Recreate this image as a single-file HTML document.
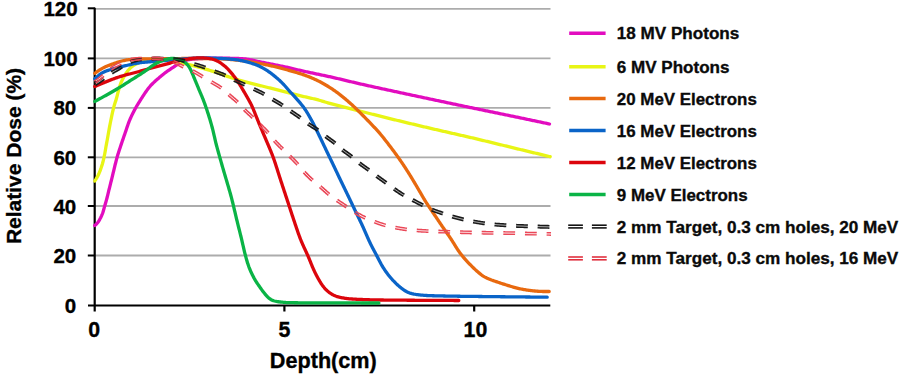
<!DOCTYPE html>
<html><head><meta charset="utf-8"><title>Relative Dose vs Depth</title>
<style>
html,body{margin:0;padding:0;background:#fff;}
body{width:900px;height:375px;overflow:hidden;}
svg{display:block;}
text{font-family:"Liberation Sans",sans-serif;font-weight:bold;fill:#000;stroke:#000;stroke-width:0.35px;}
.tk{font-size:20.5px;}
.tkx{font-size:21.3px;}
.ttl{font-size:21.3px;}
.ttl2{font-size:21px;}
.lg{font-size:17.4px;fill:#0a0a0a;stroke:#0a0a0a;}
</style></head>
<body>
<svg width="900" height="375" viewBox="0 0 900 375">
<rect width="900" height="375" fill="#fff"/>
<line x1="95" y1="255.5" x2="550.5" y2="255.5" stroke="#acacac" stroke-width="1.8"/>
<line x1="95" y1="206.0" x2="550.5" y2="206.0" stroke="#acacac" stroke-width="1.8"/>
<line x1="95" y1="157.3" x2="550.5" y2="157.3" stroke="#acacac" stroke-width="1.8"/>
<line x1="95" y1="107.9" x2="550.5" y2="107.9" stroke="#acacac" stroke-width="1.8"/>
<line x1="95" y1="58.4" x2="550.5" y2="58.4" stroke="#acacac" stroke-width="1.8"/>
<line x1="95" y1="8.8" x2="550.5" y2="8.8" stroke="#acacac" stroke-width="1.8"/>
<line x1="94.7" y1="7.8" x2="94.7" y2="311.5" stroke="#000" stroke-width="2.2"/>
<line x1="88" y1="305.5" x2="550.3" y2="305.5" stroke="#000" stroke-width="2.2"/>
<line x1="87.8" y1="255.5" x2="95" y2="255.5" stroke="#000" stroke-width="2"/>
<line x1="87.8" y1="206.0" x2="95" y2="206.0" stroke="#000" stroke-width="2"/>
<line x1="87.8" y1="157.3" x2="95" y2="157.3" stroke="#000" stroke-width="2"/>
<line x1="87.8" y1="107.9" x2="95" y2="107.9" stroke="#000" stroke-width="2"/>
<line x1="87.8" y1="58.4" x2="95" y2="58.4" stroke="#000" stroke-width="2"/>
<line x1="87.8" y1="8.3" x2="95" y2="8.3" stroke="#000" stroke-width="2"/>
<line x1="284.4" y1="305" x2="284.4" y2="311.5" stroke="#000" stroke-width="2.2"/>
<line x1="474.2" y1="305" x2="474.2" y2="311.5" stroke="#000" stroke-width="2.2"/>
<path d="M94.70 225.50L95.47 224.88L96.22 224.23L96.92 223.54L97.56 222.79L98.15 222.00L98.70 221.17L99.22 220.32L99.71 219.45L100.19 218.57L100.66 217.69L101.10 216.79L101.52 215.89L101.91 214.97L102.29 214.04L102.63 213.11L102.95 212.16L103.25 211.21L103.53 210.25L103.80 209.28L104.06 208.32L104.32 207.36L104.60 206.39L104.87 205.43L105.16 204.47L105.44 203.52L105.72 202.56L106.00 201.60L106.27 200.63L106.54 199.67L106.80 198.70L107.05 197.74L107.29 196.77L107.54 195.80L107.78 194.83L108.01 193.85L108.25 192.88L108.49 191.91L108.72 190.94L108.96 189.97L109.20 189.00L109.44 188.03L109.69 187.06L109.93 186.09L110.17 185.12L110.42 184.15L110.66 183.18L110.90 182.21L111.15 181.24L111.39 180.27L111.63 179.30L111.87 178.33L112.11 177.36L112.35 176.38L112.58 175.41L112.82 174.44L113.05 173.47L113.28 172.49L113.51 171.52L113.74 170.55L113.98 169.58L114.21 168.60L114.45 167.63L114.68 166.66L114.92 165.69L115.16 164.72L115.40 163.75L115.64 162.78L115.89 161.81L116.13 160.84L116.39 159.87L116.64 158.90L116.91 157.94L117.18 156.98L117.46 156.02L117.74 155.06L118.03 154.10L118.33 153.15L118.63 152.19L118.94 151.24L119.25 150.29L119.56 149.34L119.87 148.39L120.19 147.44L120.50 146.49L120.82 145.55L121.14 144.60L121.46 143.65L121.78 142.70L122.10 141.76L122.42 140.81L122.75 139.86L123.07 138.92L123.40 137.97L123.73 137.03L124.06 136.08L124.38 135.14L124.71 134.19L125.04 133.25L125.36 132.30L125.68 131.36L126.00 130.41L126.32 129.46L126.64 128.51L126.96 127.56L127.28 126.62L127.60 125.67L127.93 124.73L128.26 123.78L128.61 122.85L128.97 121.91L129.33 120.98L129.71 120.06L130.10 119.14L130.50 118.22L130.91 117.31L131.33 116.40L131.76 115.50L132.19 114.60L132.64 113.70L133.09 112.81L133.54 111.92L134.00 111.03L134.47 110.15L134.95 109.27L135.43 108.39L135.92 107.52L136.42 106.66L136.93 105.79L137.44 104.94L137.96 104.08L138.49 103.23L139.01 102.38L139.54 101.53L140.07 100.68L140.60 99.84L141.14 98.99L141.67 98.14L142.21 97.30L142.75 96.46L143.29 95.62L143.84 94.78L144.39 93.95L144.95 93.12L145.52 92.30L146.09 91.48L146.67 90.66L147.25 89.85L147.85 89.05L148.46 88.26L149.08 87.47L149.72 86.71L150.37 85.95L151.04 85.21L151.73 84.49L152.43 83.77L153.14 83.07L153.87 82.38L154.60 81.70L155.33 81.02L156.08 80.36L156.83 79.69L157.58 79.04L158.35 78.39L159.11 77.75L159.87 77.10L160.64 76.46L161.41 75.82L162.18 75.18L162.95 74.55L163.73 73.92L164.52 73.31L165.31 72.70L166.12 72.11L166.93 71.52L167.75 70.95L168.57 70.38L169.40 69.82L170.23 69.26L171.06 68.70L171.89 68.15L172.72 67.60L173.56 67.05L174.40 66.50L175.23 65.95L176.07 65.40L176.90 64.85L177.73 64.29L178.56 63.74L179.40 63.19L180.25 62.67L181.11 62.17L182.00 61.71L182.90 61.30L183.83 60.94L184.77 60.62L185.72 60.34L186.69 60.11L187.67 59.90L188.65 59.73L189.64 59.57L190.63 59.43L191.62 59.30L192.62 59.19L193.61 59.08L194.60 58.99L195.60 58.90L196.60 58.82L197.59 58.75L198.59 58.69L199.59 58.63L200.59 58.58L201.59 58.53L202.59 58.49L203.59 58.45L204.59 58.42L205.59 58.39L206.59 58.36L207.58 58.33L208.58 58.31L209.58 58.29L210.58 58.27L211.58 58.25L212.58 58.24L213.58 58.22L214.58 58.22L215.58 58.21L216.58 58.20L217.58 58.20L218.58 58.20L219.58 58.20L220.58 58.20L221.58 58.21L222.58 58.21L223.58 58.22L224.58 58.22L225.58 58.23L226.58 58.24L227.58 58.24L228.58 58.25L229.58 58.26L230.58 58.28L231.58 58.29L232.58 58.31L233.58 58.33L234.58 58.35L235.58 58.38L236.58 58.41L237.58 58.44L238.58 58.48L239.58 58.53L240.58 58.58L241.58 58.64L242.57 58.71L243.57 58.79L244.56 58.88L245.56 58.99L246.55 59.12L247.54 59.26L248.53 59.41L249.51 59.59L250.49 59.78L251.47 59.98L252.45 60.19L253.42 60.41L254.40 60.64L255.37 60.86L256.35 61.08L257.32 61.30L258.30 61.50L259.28 61.70L260.26 61.90L261.24 62.09L262.22 62.29L263.21 62.48L264.19 62.67L265.17 62.86L266.15 63.06L267.13 63.25L268.11 63.44L269.09 63.64L270.07 63.83L271.05 64.03L272.03 64.23L273.01 64.42L274.00 64.62L274.98 64.82L275.96 65.01L276.94 65.21L277.92 65.40L278.90 65.60L279.88 65.80L280.86 66.00L281.84 66.20L282.82 66.40L283.80 66.60L284.78 66.81L285.75 67.02L286.73 67.23L287.71 67.44L288.68 67.66L289.66 67.88L290.63 68.11L291.61 68.34L292.58 68.57L293.55 68.81L294.52 69.04L295.49 69.28L296.46 69.52L297.44 69.75L298.41 69.99L299.38 70.22L300.35 70.45L301.33 70.68L302.30 70.90L303.28 71.12L304.25 71.34L305.23 71.55L306.21 71.76L307.19 71.97L308.17 72.18L309.14 72.38L310.12 72.59L311.10 72.79L312.08 72.99L313.06 73.20L314.04 73.40L315.02 73.60L316.00 73.81L316.98 74.01L317.95 74.22L318.93 74.43L319.91 74.63L320.89 74.84L321.87 75.05L322.85 75.26L323.82 75.46L324.80 75.67L325.78 75.88L326.76 76.09L327.73 76.31L328.71 76.52L329.69 76.73L330.66 76.95L331.64 77.17L332.62 77.39L333.59 77.61L334.57 77.83L335.54 78.06L336.51 78.28L337.49 78.51L338.46 78.74L339.43 78.97L340.41 79.20L341.38 79.43L342.35 79.66L343.33 79.89L344.30 80.13L345.27 80.36L346.24 80.59L347.22 80.83L348.19 81.06L349.16 81.29L350.13 81.53L351.11 81.76L352.08 81.99L353.05 82.22L354.02 82.45L355.00 82.68L355.97 82.91L356.95 83.14L357.92 83.36L358.89 83.59L359.87 83.81L360.84 84.03L361.82 84.26L362.79 84.48L363.77 84.70L364.75 84.92L365.72 85.13L366.70 85.35L367.67 85.57L368.65 85.78L369.63 86.00L370.60 86.21L371.58 86.43L372.56 86.64L373.53 86.86L374.51 87.07L375.49 87.29L376.46 87.50L377.44 87.71L378.42 87.92L379.40 88.14L380.37 88.35L381.35 88.56L382.33 88.77L383.30 88.99L384.28 89.20L385.26 89.41L386.24 89.62L387.21 89.83L388.19 90.04L389.17 90.26L390.15 90.47L391.12 90.68L392.10 90.89L393.08 91.10L394.06 91.31L395.03 91.52L396.01 91.73L396.99 91.94L397.97 92.16L398.94 92.37L399.92 92.58L400.90 92.79L401.88 93.00L402.85 93.21L403.83 93.42L404.81 93.63L405.79 93.84L406.76 94.05L407.74 94.26L408.72 94.47L409.70 94.68L410.68 94.88L411.65 95.09L412.63 95.30L413.61 95.51L414.59 95.72L415.57 95.93L416.54 96.14L417.52 96.35L418.50 96.55L419.48 96.76L420.46 96.97L421.43 97.18L422.41 97.39L423.39 97.60L424.37 97.80L425.35 98.01L426.32 98.22L427.30 98.43L428.28 98.63L429.26 98.84L430.24 99.05L431.22 99.26L432.19 99.47L433.17 99.67L434.15 99.88L435.13 100.09L436.11 100.29L437.08 100.50L438.06 100.71L439.04 100.92L440.02 101.12L441.00 101.33L441.98 101.54L442.95 101.74L443.93 101.95L444.91 102.16L445.89 102.37L446.87 102.57L447.85 102.78L448.83 102.99L449.80 103.19L450.78 103.40L451.76 103.60L452.74 103.81L453.72 104.02L454.70 104.22L455.67 104.43L456.65 104.64L457.63 104.84L458.61 105.05L459.59 105.25L460.57 105.46L461.55 105.66L462.52 105.87L463.50 106.08L464.48 106.28L465.46 106.49L466.44 106.69L467.42 106.90L468.40 107.10L469.38 107.31L470.35 107.51L471.33 107.71L472.31 107.92L473.29 108.12L474.27 108.33L475.25 108.53L476.23 108.73L477.21 108.94L478.19 109.14L479.17 109.34L480.15 109.55L481.12 109.75L482.10 109.95L483.08 110.15L484.06 110.36L485.04 110.56L486.02 110.76L487.00 110.96L487.98 111.16L488.96 111.37L489.94 111.57L490.92 111.77L491.90 111.97L492.88 112.17L493.86 112.37L494.84 112.58L495.82 112.78L496.80 112.98L497.77 113.18L498.75 113.38L499.73 113.58L500.71 113.78L501.69 113.99L502.67 114.19L503.65 114.39L504.63 114.59L505.61 114.79L506.59 115.00L507.57 115.20L508.55 115.40L509.53 115.60L510.51 115.81L511.49 116.01L512.47 116.21L513.44 116.41L514.42 116.62L515.40 116.82L516.38 117.03L517.36 117.23L518.34 117.43L519.32 117.64L520.30 117.84L521.28 118.05L522.25 118.25L523.23 118.46L524.21 118.67L525.19 118.87L526.17 119.08L527.15 119.28L528.13 119.49L529.10 119.69L530.08 119.90L531.06 120.11L532.04 120.31L533.02 120.52L534.00 120.73L534.98 120.93L535.95 121.14L536.93 121.34L537.91 121.55L538.89 121.76L539.87 121.97L540.85 122.17L541.82 122.38L542.80 122.59L543.78 122.79L544.76 123.00L545.73 123.20L546.70 123.41L547.65 123.61L548.58 123.81L549.50 124.00L549.50 124.00" fill="none" stroke="#e20cbf" stroke-width="3.30" stroke-linejoin="round" stroke-linecap="round"/>
<path d="M94.80 181.00L95.33 180.15L95.87 179.31L96.39 178.46L96.90 177.60L97.40 176.73L97.87 175.85L98.32 174.96L98.74 174.05L99.13 173.14L99.51 172.21L99.87 171.28L100.23 170.35L100.57 169.41L100.90 168.46L101.23 167.52L101.54 166.57L101.85 165.62L102.15 164.66L102.44 163.71L102.71 162.75L102.97 161.78L103.22 160.81L103.46 159.84L103.68 158.87L103.90 157.89L104.11 156.91L104.31 155.93L104.50 154.95L104.70 153.97L104.88 152.99L105.06 152.01L105.24 151.02L105.41 150.04L105.57 149.05L105.74 148.06L105.91 147.08L106.08 146.09L106.26 145.11L106.44 144.13L106.63 143.14L106.81 142.16L106.99 141.18L107.18 140.19L107.36 139.21L107.54 138.23L107.71 137.24L107.89 136.26L108.06 135.27L108.24 134.29L108.41 133.30L108.59 132.32L108.76 131.33L108.94 130.35L109.11 129.37L109.29 128.38L109.47 127.40L109.65 126.41L109.84 125.43L110.02 124.45L110.21 123.47L110.41 122.49L110.60 121.51L110.80 120.53L111.00 119.55L111.20 118.57L111.40 117.59L111.60 116.61L111.81 115.63L112.02 114.65L112.23 113.67L112.45 112.70L112.66 111.72L112.89 110.75L113.11 109.77L113.35 108.80L113.59 107.83L113.85 106.86L114.12 105.90L114.40 104.94L114.70 103.99L115.00 103.04L115.31 102.09L115.62 101.13L115.92 100.18L116.20 99.22L116.48 98.26L116.75 97.30L117.00 96.33L117.25 95.36L117.50 94.40L117.75 93.43L118.00 92.46L118.25 91.49L118.51 90.52L118.77 89.56L119.04 88.60L119.33 87.64L119.63 86.69L119.93 85.73L120.26 84.79L120.59 83.85L120.94 82.91L121.32 81.98L121.71 81.07L122.12 80.16L122.56 79.26L123.02 78.37L123.49 77.49L123.99 76.62L124.49 75.76L125.02 74.91L125.55 74.07L126.10 73.23L126.66 72.41L127.24 71.59L127.85 70.80L128.47 70.02L129.12 69.26L129.80 68.54L130.51 67.84L131.26 67.19L132.04 66.57L132.85 65.99L133.68 65.44L134.53 64.92L135.40 64.42L136.28 63.94L137.17 63.49L138.07 63.06L138.98 62.66L139.91 62.29L140.85 61.94L141.79 61.62L142.74 61.32L143.71 61.05L144.67 60.80L145.64 60.57L146.62 60.36L147.60 60.18L148.59 60.02L149.58 59.88L150.57 59.77L151.57 59.68L152.56 59.62L153.56 59.57L154.56 59.55L155.56 59.54L156.56 59.55L157.56 59.58L158.56 59.61L159.56 59.65L160.56 59.70L161.55 59.76L162.55 59.83L163.55 59.90L164.54 59.98L165.54 60.07L166.53 60.18L167.53 60.29L168.52 60.42L169.51 60.56L170.50 60.71L171.48 60.88L172.47 61.05L173.45 61.22L174.44 61.40L175.42 61.58L176.40 61.76L177.39 61.95L178.37 62.15L179.35 62.34L180.33 62.55L181.30 62.76L182.28 62.98L183.25 63.20L184.23 63.42L185.20 63.66L186.17 63.89L187.14 64.13L188.11 64.37L189.08 64.61L190.05 64.86L191.02 65.11L191.99 65.35L192.96 65.61L193.93 65.86L194.89 66.12L195.86 66.37L196.82 66.63L197.79 66.90L198.75 67.16L199.72 67.43L200.68 67.70L201.64 67.97L202.61 68.24L203.57 68.52L204.53 68.79L205.49 69.07L206.45 69.36L207.41 69.64L208.36 69.93L209.32 70.22L210.28 70.51L211.23 70.81L212.19 71.10L213.14 71.41L214.09 71.71L215.04 72.02L215.99 72.34L216.94 72.66L217.88 72.98L218.83 73.31L219.77 73.65L220.71 73.98L221.65 74.32L222.60 74.66L223.54 74.99L224.48 75.33L225.42 75.66L226.37 75.99L227.31 76.32L228.26 76.64L229.21 76.96L230.16 77.27L231.11 77.58L232.06 77.89L233.01 78.19L233.96 78.50L234.92 78.80L235.87 79.09L236.83 79.39L237.78 79.68L238.74 79.97L239.70 80.25L240.66 80.54L241.62 80.82L242.58 81.09L243.54 81.36L244.51 81.63L245.47 81.89L246.44 82.15L247.41 82.40L248.37 82.65L249.34 82.90L250.31 83.14L251.28 83.38L252.25 83.62L253.23 83.86L254.20 84.09L255.17 84.33L256.14 84.57L257.11 84.81L258.08 85.05L259.05 85.29L260.02 85.53L260.99 85.78L261.96 86.02L262.93 86.26L263.90 86.51L264.87 86.75L265.84 87.00L266.81 87.24L267.78 87.48L268.75 87.73L269.72 87.97L270.69 88.22L271.66 88.46L272.63 88.71L273.60 88.95L274.57 89.20L275.54 89.44L276.51 89.69L277.48 89.93L278.45 90.18L279.42 90.42L280.38 90.67L281.35 90.92L282.32 91.16L283.29 91.41L284.26 91.65L285.23 91.90L286.20 92.14L287.17 92.39L288.14 92.64L289.11 92.88L290.08 93.13L291.05 93.37L292.02 93.62L292.98 93.87L293.95 94.11L294.92 94.36L295.89 94.61L296.86 94.85L297.83 95.10L298.80 95.34L299.77 95.58L300.74 95.82L301.71 96.06L302.69 96.29L303.66 96.52L304.63 96.75L305.61 96.97L306.58 97.20L307.56 97.42L308.53 97.63L309.51 97.85L310.49 98.07L311.46 98.29L312.44 98.51L313.41 98.74L314.38 98.97L315.36 99.20L316.33 99.44L317.29 99.69L318.26 99.95L319.22 100.22L320.18 100.50L321.14 100.79L322.10 101.09L323.05 101.38L324.01 101.68L324.96 101.97L325.92 102.25L326.88 102.53L327.84 102.80L328.81 103.07L329.77 103.33L330.74 103.59L331.70 103.85L332.67 104.10L333.64 104.36L334.61 104.61L335.57 104.86L336.54 105.11L337.51 105.36L338.48 105.61L339.45 105.86L340.42 106.11L341.38 106.36L342.35 106.61L343.32 106.86L344.29 107.10L345.26 107.35L346.23 107.60L347.20 107.85L348.17 108.09L349.14 108.34L350.10 108.58L351.07 108.83L352.04 109.08L353.01 109.32L353.98 109.57L354.95 109.81L355.92 110.06L356.89 110.31L357.86 110.55L358.83 110.80L359.80 111.04L360.77 111.29L361.74 111.53L362.71 111.78L363.68 112.02L364.64 112.27L365.61 112.51L366.58 112.76L367.55 113.01L368.52 113.25L369.49 113.50L370.46 113.74L371.43 113.98L372.40 114.23L373.37 114.47L374.34 114.72L375.31 114.96L376.28 115.21L377.25 115.45L378.22 115.69L379.19 115.94L380.16 116.18L381.13 116.42L382.10 116.66L383.07 116.90L384.04 117.15L385.01 117.39L385.98 117.63L386.95 117.87L387.92 118.11L388.89 118.35L389.87 118.59L390.84 118.82L391.81 119.06L392.78 119.30L393.75 119.54L394.72 119.78L395.69 120.01L396.67 120.25L397.64 120.49L398.61 120.72L399.58 120.96L400.55 121.19L401.52 121.43L402.50 121.66L403.47 121.90L404.44 122.13L405.41 122.37L406.38 122.60L407.36 122.83L408.33 123.07L409.30 123.30L410.27 123.53L411.25 123.77L412.22 124.00L413.19 124.23L414.17 124.46L415.14 124.69L416.11 124.93L417.08 125.16L418.06 125.39L419.03 125.62L420.00 125.85L420.98 126.08L421.95 126.31L422.92 126.54L423.90 126.77L424.87 127.00L425.84 127.23L426.82 127.45L427.79 127.68L428.76 127.91L429.74 128.14L430.71 128.36L431.69 128.59L432.66 128.82L433.63 129.04L434.61 129.27L435.58 129.49L436.56 129.72L437.53 129.94L438.51 130.16L439.48 130.39L440.46 130.61L441.43 130.83L442.41 131.05L443.38 131.28L444.36 131.50L445.33 131.72L446.31 131.94L447.28 132.16L448.26 132.39L449.23 132.61L450.21 132.83L451.18 133.05L452.16 133.27L453.13 133.49L454.11 133.71L455.08 133.94L456.06 134.16L457.03 134.38L458.01 134.60L458.98 134.83L459.96 135.05L460.93 135.27L461.91 135.49L462.88 135.72L463.86 135.94L464.83 136.17L465.80 136.39L466.78 136.62L467.75 136.84L468.73 137.07L469.70 137.30L470.67 137.53L471.65 137.75L472.62 137.98L473.60 138.21L474.57 138.44L475.54 138.67L476.51 138.90L477.49 139.14L478.46 139.37L479.43 139.60L480.40 139.83L481.38 140.07L482.35 140.30L483.32 140.53L484.29 140.77L485.27 141.00L486.24 141.24L487.21 141.47L488.18 141.71L489.15 141.94L490.13 142.18L491.10 142.41L492.07 142.65L493.04 142.89L494.01 143.12L494.98 143.36L495.96 143.60L496.93 143.83L497.90 144.07L498.87 144.31L499.84 144.54L500.81 144.78L501.79 145.02L502.76 145.25L503.73 145.49L504.70 145.73L505.67 145.96L506.64 146.20L507.62 146.44L508.59 146.67L509.56 146.91L510.53 147.14L511.50 147.38L512.47 147.62L513.45 147.85L514.42 148.09L515.39 148.32L516.36 148.56L517.33 148.79L518.31 149.02L519.28 149.26L520.25 149.49L521.22 149.73L522.19 149.96L523.17 150.20L524.14 150.43L525.11 150.66L526.08 150.90L527.06 151.13L528.03 151.37L529.00 151.60L529.97 151.83L530.94 152.07L531.92 152.30L532.89 152.54L533.86 152.77L534.83 153.00L535.81 153.24L536.78 153.47L537.75 153.71L538.72 153.94L539.70 154.17L540.67 154.41L541.64 154.64L542.61 154.88L543.58 155.11L544.56 155.34L545.53 155.58L546.49 155.81L547.45 156.04L548.38 156.26L549.30 156.48L550.20 156.70L550.20 156.70" fill="none" stroke="#e8f515" stroke-width="3.30" stroke-linejoin="round" stroke-linecap="round"/>
<path d="M94.80 73.30L95.61 72.72L96.43 72.14L97.25 71.56L98.07 71.00L98.90 70.44L99.73 69.89L100.58 69.36L101.43 68.85L102.30 68.36L103.18 67.89L104.07 67.44L104.97 67.01L105.88 66.60L106.80 66.20L107.72 65.82L108.65 65.45L109.58 65.09L110.52 64.73L111.45 64.39L112.39 64.05L113.34 63.71L114.28 63.38L115.22 63.05L116.17 62.74L117.12 62.42L118.07 62.12L119.03 61.82L119.99 61.54L120.95 61.26L121.91 61.00L122.88 60.76L123.85 60.53L124.83 60.33L125.81 60.14L126.79 59.98L127.78 59.84L128.77 59.72L129.77 59.61L130.76 59.52L131.76 59.44L132.75 59.37L133.75 59.31L134.75 59.25L135.75 59.20L136.75 59.16L137.75 59.11L138.75 59.08L139.74 59.04L140.74 59.01L141.74 58.98L142.74 58.96L143.74 58.93L144.74 58.91L145.74 58.89L146.74 58.87L147.74 58.85L148.74 58.84L149.74 58.82L150.74 58.80L151.74 58.79L152.74 58.77L153.74 58.76L154.74 58.75L155.74 58.74L156.74 58.72L157.74 58.71L158.74 58.70L159.74 58.69L160.74 58.68L161.74 58.67L162.74 58.66L163.74 58.65L164.74 58.64L165.74 58.63L166.74 58.63L167.74 58.62L168.74 58.61L169.74 58.60L170.74 58.60L171.74 58.59L172.74 58.58L173.74 58.57L174.74 58.57L175.74 58.56L176.74 58.55L177.74 58.55L178.74 58.54L179.74 58.54L180.74 58.53L181.74 58.52L182.74 58.52L183.74 58.51L184.74 58.51L185.74 58.51L186.74 58.50L187.74 58.50L188.74 58.50L189.74 58.49L190.74 58.49L191.74 58.49L192.74 58.49L193.74 58.49L194.74 58.49L195.74 58.49L196.74 58.49L197.74 58.49L198.74 58.50L199.74 58.50L200.74 58.50L201.74 58.51L202.74 58.51L203.74 58.52L204.74 58.52L205.74 58.53L206.74 58.53L207.74 58.54L208.74 58.55L209.74 58.56L210.74 58.57L211.74 58.58L212.74 58.60L213.74 58.62L214.74 58.64L215.74 58.67L216.74 58.70L217.74 58.73L218.74 58.77L219.74 58.81L220.73 58.86L221.73 58.91L222.73 58.96L223.73 59.02L224.73 59.08L225.73 59.15L226.72 59.22L227.72 59.30L228.72 59.38L229.71 59.46L230.71 59.54L231.71 59.63L232.70 59.72L233.70 59.81L234.69 59.90L235.69 60.00L236.68 60.10L237.68 60.20L238.67 60.31L239.67 60.42L240.66 60.53L241.65 60.64L242.65 60.76L243.64 60.88L244.63 61.00L245.62 61.13L246.61 61.26L247.60 61.40L248.59 61.55L249.58 61.70L250.57 61.86L251.56 62.02L252.54 62.19L253.53 62.36L254.51 62.53L255.50 62.71L256.48 62.89L257.46 63.07L258.45 63.26L259.43 63.44L260.41 63.63L261.39 63.81L262.37 64.00L263.36 64.20L264.34 64.39L265.32 64.59L266.30 64.79L267.28 64.99L268.26 65.19L269.23 65.40L270.21 65.61L271.19 65.82L272.16 66.04L273.14 66.26L274.11 66.49L275.09 66.72L276.06 66.96L277.03 67.20L278.00 67.44L278.97 67.69L279.93 67.94L280.90 68.20L281.87 68.46L282.83 68.72L283.80 68.98L284.76 69.24L285.73 69.50L286.69 69.76L287.66 70.03L288.62 70.29L289.58 70.56L290.55 70.83L291.51 71.10L292.47 71.38L293.43 71.65L294.39 71.93L295.35 72.21L296.31 72.49L297.27 72.78L298.23 73.06L299.19 73.36L300.14 73.65L301.09 73.96L302.04 74.27L302.99 74.59L303.93 74.91L304.88 75.25L305.82 75.59L306.75 75.94L307.69 76.30L308.62 76.66L309.55 77.03L310.47 77.40L311.40 77.79L312.32 78.17L313.24 78.57L314.15 78.97L315.06 79.38L315.97 79.80L316.88 80.23L317.77 80.67L318.67 81.11L319.56 81.57L320.44 82.04L321.32 82.51L322.20 82.99L323.08 83.47L323.95 83.96L324.81 84.46L325.68 84.96L326.54 85.47L327.40 85.98L328.25 86.50L329.10 87.03L329.94 87.56L330.78 88.11L331.62 88.66L332.45 89.21L333.28 89.78L334.10 90.35L334.91 90.92L335.73 91.50L336.54 92.09L337.34 92.69L338.14 93.28L338.94 93.89L339.73 94.50L340.52 95.11L341.31 95.73L342.09 96.35L342.87 96.98L343.64 97.61L344.41 98.25L345.18 98.89L345.95 99.53L346.71 100.18L347.47 100.83L348.22 101.48L348.98 102.14L349.73 102.80L350.48 103.47L351.22 104.13L351.96 104.80L352.70 105.48L353.43 106.16L354.16 106.84L354.89 107.53L355.61 108.22L356.33 108.92L357.04 109.61L357.76 110.32L358.47 111.02L359.17 111.73L359.88 112.44L360.58 113.15L361.28 113.86L361.99 114.57L362.69 115.28L363.39 115.99L364.09 116.71L364.80 117.42L365.50 118.13L366.20 118.84L366.90 119.56L367.60 120.27L368.30 120.99L369.00 121.70L369.69 122.42L370.38 123.14L371.08 123.86L371.77 124.59L372.45 125.31L373.14 126.04L373.82 126.77L374.51 127.50L375.19 128.23L375.87 128.97L376.54 129.71L377.21 130.45L377.88 131.19L378.54 131.94L379.20 132.69L379.86 133.45L380.50 134.21L381.15 134.98L381.78 135.75L382.42 136.52L383.04 137.30L383.67 138.08L384.29 138.86L384.91 139.65L385.52 140.44L386.14 141.23L386.75 142.02L387.36 142.81L387.97 143.60L388.58 144.40L389.18 145.19L389.79 145.99L390.39 146.78L391.00 147.58L391.60 148.38L392.20 149.18L392.80 149.98L393.39 150.78L393.99 151.59L394.58 152.39L395.17 153.20L395.76 154.01L396.34 154.82L396.93 155.63L397.51 156.44L398.09 157.26L398.67 158.07L399.25 158.89L399.82 159.71L400.39 160.53L400.96 161.35L401.53 162.17L402.10 163.00L402.66 163.83L403.22 164.66L403.77 165.49L404.32 166.32L404.87 167.16L405.42 167.99L405.96 168.83L406.50 169.67L407.04 170.52L407.58 171.36L408.11 172.21L408.64 173.05L409.17 173.90L409.70 174.75L410.22 175.60L410.75 176.45L411.27 177.31L411.79 178.16L412.31 179.02L412.83 179.87L413.34 180.73L413.86 181.59L414.37 182.44L414.88 183.30L415.39 184.16L415.90 185.02L416.41 185.89L416.92 186.75L417.42 187.61L417.93 188.47L418.44 189.33L418.94 190.20L419.44 191.06L419.94 191.93L420.44 192.79L420.94 193.66L421.44 194.53L421.94 195.39L422.44 196.26L422.95 197.12L423.46 197.98L423.97 198.84L424.48 199.70L425.00 200.55L425.53 201.40L426.06 202.25L426.60 203.09L427.14 203.93L427.69 204.77L428.24 205.61L428.79 206.44L429.35 207.27L429.91 208.10L430.47 208.92L431.03 209.75L431.60 210.58L432.16 211.40L432.72 212.23L433.28 213.06L433.84 213.89L434.40 214.71L434.96 215.54L435.52 216.37L436.08 217.20L436.63 218.03L437.19 218.87L437.75 219.70L438.30 220.53L438.86 221.36L439.42 222.19L439.98 223.02L440.54 223.85L441.10 224.67L441.66 225.50L442.22 226.33L442.79 227.15L443.36 227.97L443.93 228.80L444.50 229.62L445.07 230.44L445.64 231.25L446.22 232.07L446.79 232.89L447.37 233.71L447.94 234.53L448.51 235.35L449.08 236.17L449.65 237.00L450.21 237.82L450.76 238.66L451.31 239.49L451.86 240.33L452.40 241.17L452.93 242.02L453.46 242.87L453.98 243.72L454.50 244.57L455.03 245.42L455.55 246.28L456.08 247.12L456.61 247.97L457.15 248.81L457.70 249.65L458.26 250.47L458.83 251.30L459.41 252.11L459.99 252.92L460.59 253.72L461.20 254.51L461.82 255.30L462.45 256.08L463.08 256.85L463.73 257.61L464.38 258.37L465.03 259.12L465.70 259.87L466.37 260.61L467.05 261.35L467.73 262.08L468.42 262.80L469.11 263.53L469.80 264.24L470.50 264.96L471.20 265.67L471.91 266.38L472.62 267.08L473.34 267.78L474.06 268.47L474.78 269.16L475.52 269.84L476.26 270.51L477.00 271.18L477.75 271.84L478.51 272.49L479.27 273.13L480.05 273.76L480.83 274.38L481.62 274.98L482.43 275.56L483.26 276.11L484.11 276.63L484.97 277.12L485.86 277.58L486.75 278.02L487.66 278.43L488.58 278.83L489.50 279.20L490.43 279.57L491.36 279.93L492.30 280.27L493.24 280.61L494.18 280.95L495.13 281.28L496.07 281.60L497.02 281.93L497.97 282.24L498.92 282.56L499.86 282.87L500.81 283.19L501.77 283.50L502.72 283.81L503.67 284.11L504.62 284.42L505.57 284.73L506.52 285.03L507.48 285.33L508.43 285.63L509.39 285.93L510.34 286.22L511.30 286.51L512.26 286.79L513.22 287.07L514.18 287.34L515.15 287.61L516.11 287.86L517.08 288.11L518.05 288.35L519.02 288.58L520.00 288.80L520.98 289.00L521.96 289.20L522.94 289.39L523.92 289.56L524.91 289.73L525.90 289.89L526.88 290.03L527.87 290.18L528.86 290.31L529.86 290.44L530.85 290.56L531.84 290.67L532.84 290.78L533.83 290.89L534.83 290.99L535.82 291.08L536.82 291.16L537.81 291.24L538.81 291.31L539.81 291.37L540.81 291.42L541.80 291.46L542.80 291.48L543.80 291.50L544.79 291.51L545.78 291.52L546.76 291.51L547.74 291.51L548.71 291.50L549.20 291.50" fill="none" stroke="#e8690f" stroke-width="3.30" stroke-linejoin="round" stroke-linecap="round"/>
<path d="M94.80 78.80L95.55 78.14L96.30 77.48L97.05 76.81L97.80 76.16L98.57 75.51L99.34 74.88L100.13 74.27L100.94 73.69L101.78 73.15L102.63 72.64L103.51 72.17L104.41 71.75L105.33 71.36L106.26 71.00L107.21 70.66L108.15 70.35L109.11 70.05L110.06 69.75L111.02 69.47L111.98 69.19L112.94 68.91L113.90 68.63L114.87 68.37L115.83 68.10L116.80 67.85L117.77 67.60L118.74 67.36L119.71 67.13L120.68 66.89L121.65 66.66L122.63 66.43L123.60 66.19L124.57 65.95L125.54 65.72L126.51 65.48L127.48 65.24L128.46 65.00L129.43 64.78L130.40 64.55L131.38 64.34L132.36 64.13L133.34 63.93L134.32 63.73L135.30 63.54L136.28 63.36L137.27 63.18L138.25 63.01L139.24 62.86L140.23 62.71L141.22 62.58L142.21 62.46L143.21 62.35L144.20 62.25L145.20 62.16L146.19 62.07L147.19 61.99L148.19 61.91L149.18 61.84L150.18 61.77L151.18 61.69L152.18 61.62L153.17 61.54L154.17 61.46L155.17 61.38L156.16 61.29L157.16 61.21L158.16 61.12L159.15 61.03L160.15 60.94L161.14 60.84L162.14 60.75L163.13 60.67L164.13 60.58L165.13 60.49L166.12 60.40L167.12 60.31L168.12 60.23L169.11 60.14L170.11 60.05L171.10 59.96L172.10 59.88L173.10 59.79L174.09 59.70L175.09 59.62L176.09 59.53L177.08 59.44L178.08 59.36L179.07 59.28L180.07 59.19L181.07 59.11L182.06 59.03L183.06 58.95L184.06 58.87L185.06 58.80L186.05 58.72L187.05 58.65L188.05 58.57L189.04 58.50L190.04 58.42L191.04 58.35L192.04 58.28L193.03 58.22L194.03 58.16L195.03 58.10L196.03 58.05L197.03 58.00L198.03 57.97L199.03 57.94L200.03 57.91L201.03 57.90L202.03 57.89L203.03 57.89L204.03 57.89L205.03 57.90L206.03 57.92L207.03 57.94L208.02 57.96L209.02 57.99L210.02 58.02L211.02 58.05L212.02 58.09L213.02 58.13L214.02 58.16L215.02 58.20L216.02 58.24L217.02 58.28L218.02 58.33L219.02 58.37L220.02 58.42L221.01 58.47L222.01 58.52L223.01 58.58L224.01 58.64L225.01 58.70L226.01 58.76L227.00 58.83L228.00 58.91L229.00 58.98L229.99 59.06L230.99 59.15L231.99 59.24L232.98 59.34L233.98 59.44L234.97 59.56L235.96 59.69L236.95 59.83L237.94 59.98L238.92 60.15L239.91 60.33L240.89 60.52L241.87 60.72L242.84 60.93L243.82 61.16L244.79 61.39L245.76 61.63L246.73 61.88L247.69 62.14L248.66 62.42L249.62 62.70L250.57 62.99L251.53 63.28L252.48 63.59L253.43 63.90L254.38 64.22L255.32 64.56L256.26 64.90L257.19 65.27L258.11 65.65L259.03 66.05L259.93 66.47L260.83 66.91L261.72 67.36L262.60 67.84L263.47 68.33L264.34 68.83L265.19 69.35L266.04 69.88L266.88 70.42L267.71 70.97L268.54 71.53L269.36 72.11L270.17 72.69L270.98 73.28L271.77 73.88L272.57 74.49L273.35 75.11L274.13 75.74L274.90 76.37L275.67 77.01L276.43 77.66L277.19 78.31L277.94 78.97L278.69 79.64L279.43 80.31L280.17 80.99L280.90 81.67L281.62 82.36L282.33 83.06L283.03 83.78L283.72 84.50L284.39 85.24L285.05 85.99L285.71 86.74L286.36 87.51L287.00 88.27L287.65 89.03L288.31 89.78L288.97 90.53L289.64 91.28L290.31 92.01L290.99 92.75L291.68 93.48L292.36 94.21L293.04 94.94L293.72 95.67L294.39 96.41L295.06 97.15L295.73 97.90L296.39 98.65L297.05 99.40L297.71 100.15L298.37 100.90L299.03 101.65L299.69 102.41L300.33 103.17L300.98 103.94L301.61 104.71L302.23 105.49L302.85 106.28L303.45 107.08L304.04 107.89L304.61 108.71L305.17 109.53L305.72 110.37L306.27 111.21L306.80 112.05L307.32 112.91L307.84 113.76L308.35 114.62L308.85 115.49L309.35 116.35L309.85 117.22L310.34 118.09L310.82 118.97L311.31 119.84L311.79 120.72L312.27 121.60L312.74 122.48L313.21 123.36L313.67 124.25L314.13 125.14L314.58 126.03L315.03 126.92L315.47 127.82L315.91 128.72L316.35 129.62L316.78 130.52L317.21 131.42L317.65 132.32L318.08 133.22L318.51 134.12L318.94 135.03L319.38 135.93L319.81 136.83L320.25 137.73L320.68 138.63L321.11 139.53L321.55 140.43L321.98 141.33L322.41 142.23L322.84 143.14L323.27 144.04L323.71 144.94L324.14 145.84L324.57 146.75L325.00 147.65L325.43 148.55L325.86 149.45L326.29 150.36L326.72 151.26L327.16 152.16L327.59 153.06L328.03 153.96L328.46 154.86L328.89 155.76L329.33 156.66L329.76 157.56L330.20 158.46L330.63 159.36L331.07 160.27L331.50 161.17L331.93 162.07L332.37 162.97L332.80 163.87L333.23 164.77L333.66 165.68L334.09 166.58L334.52 167.48L334.95 168.39L335.37 169.29L335.80 170.19L336.23 171.10L336.66 172.00L337.09 172.91L337.51 173.81L337.94 174.71L338.37 175.62L338.80 176.52L339.23 177.42L339.66 178.32L340.10 179.22L340.53 180.13L340.96 181.03L341.40 181.93L341.83 182.83L342.27 183.73L342.70 184.63L343.14 185.53L343.57 186.43L344.01 187.33L344.45 188.23L344.88 189.13L345.32 190.03L345.75 190.93L346.19 191.83L346.62 192.73L347.06 193.63L347.49 194.53L347.93 195.43L348.36 196.33L348.79 197.24L349.22 198.14L349.65 199.04L350.09 199.94L350.52 200.85L350.94 201.75L351.37 202.65L351.80 203.55L352.23 204.46L352.66 205.36L353.09 206.26L353.52 207.17L353.96 208.07L354.39 208.97L354.82 209.87L355.26 210.77L355.69 211.67L356.13 212.57L356.57 213.47L357.00 214.37L357.44 215.27L357.88 216.17L358.32 217.07L358.75 217.97L359.19 218.87L359.62 219.77L360.05 220.67L360.49 221.57L360.91 222.48L361.34 223.38L361.76 224.29L362.18 225.19L362.60 226.10L363.01 227.01L363.42 227.93L363.83 228.84L364.23 229.75L364.63 230.67L365.03 231.59L365.44 232.50L365.84 233.42L366.24 234.34L366.64 235.25L367.04 236.17L367.44 237.08L367.85 238.00L368.25 238.91L368.67 239.82L369.08 240.73L369.50 241.64L369.93 242.54L370.37 243.44L370.80 244.34L371.25 245.24L371.70 246.13L372.15 247.02L372.62 247.91L373.08 248.79L373.55 249.68L374.02 250.56L374.49 251.44L374.96 252.32L375.43 253.20L375.90 254.09L376.37 254.97L376.84 255.86L377.30 256.74L377.76 257.63L378.21 258.52L378.67 259.41L379.13 260.30L379.59 261.19L380.06 262.07L380.53 262.95L381.00 263.83L381.49 264.70L381.99 265.57L382.50 266.43L383.02 267.29L383.55 268.13L384.09 268.97L384.64 269.81L385.20 270.64L385.77 271.46L386.35 272.27L386.93 273.08L387.53 273.88L388.14 274.68L388.76 275.46L389.39 276.24L390.03 277.01L390.67 277.77L391.33 278.53L391.99 279.27L392.67 280.01L393.35 280.75L394.04 281.47L394.73 282.19L395.44 282.90L396.15 283.60L396.88 284.28L397.61 284.96L398.35 285.63L399.11 286.29L399.87 286.93L400.64 287.57L401.42 288.19L402.21 288.80L403.02 289.40L403.83 289.97L404.67 290.52L405.52 291.04L406.39 291.52L407.28 291.97L408.20 292.37L409.12 292.74L410.06 293.07L411.02 293.36L411.98 293.63L412.95 293.86L413.93 294.07L414.91 294.25L415.90 294.42L416.88 294.56L417.88 294.69L418.87 294.81L419.86 294.92L420.86 295.03L421.85 295.12L422.85 295.21L423.84 295.29L424.84 295.37L425.84 295.44L426.84 295.50L427.84 295.55L428.83 295.60L429.83 295.64L430.83 295.68L431.83 295.71L432.83 295.74L433.83 295.77L434.83 295.80L435.83 295.82L436.83 295.84L437.83 295.87L438.83 295.89L439.83 295.91L440.83 295.93L441.83 295.95L442.83 295.97L443.83 296.00L444.83 296.02L445.83 296.04L446.83 296.06L447.83 296.08L448.83 296.10L449.83 296.12L450.83 296.13L451.83 296.15L452.83 296.17L453.83 296.18L454.83 296.20L455.83 296.21L456.83 296.22L457.83 296.24L458.83 296.25L459.83 296.26L460.83 296.28L461.83 296.29L462.83 296.30L463.83 296.31L464.83 296.33L465.83 296.34L466.83 296.35L467.83 296.36L468.83 296.37L469.83 296.38L470.83 296.39L471.83 296.41L472.83 296.42L473.83 296.43L474.83 296.44L475.83 296.45L476.83 296.46L477.82 296.47L478.82 296.49L479.82 296.50L480.82 296.51L481.82 296.52L482.82 296.53L483.82 296.54L484.82 296.55L485.82 296.57L486.82 296.58L487.82 296.59L488.82 296.60L489.82 296.61L490.82 296.62L491.82 296.63L492.82 296.64L493.82 296.65L494.82 296.66L495.82 296.67L496.82 296.68L497.82 296.69L498.82 296.71L499.82 296.72L500.82 296.73L501.82 296.74L502.82 296.75L503.82 296.76L504.82 296.77L505.82 296.78L506.82 296.79L507.82 296.80L508.82 296.81L509.82 296.82L510.82 296.83L511.82 296.84L512.82 296.85L513.82 296.86L514.82 296.87L515.82 296.88L516.82 296.89L517.82 296.90L518.82 296.91L519.82 296.92L520.82 296.93L521.82 296.94L522.82 296.95L523.82 296.96L524.82 296.97L525.82 296.98L526.82 296.99L527.82 297.00L528.82 297.01L529.82 297.02L530.82 297.03L531.82 297.04L532.82 297.05L533.82 297.06L534.82 297.07L535.82 297.08L536.82 297.09L537.82 297.10L538.82 297.11L539.82 297.12L540.82 297.13L541.82 297.14L542.82 297.16L543.81 297.17L544.80 297.18L545.77 297.19L546.73 297.20L547.20 297.20" fill="none" stroke="#0a64c8" stroke-width="3.30" stroke-linejoin="round" stroke-linecap="round"/>
<path d="M94.80 86.50L95.72 86.11L96.64 85.73L97.57 85.34L98.49 84.95L99.41 84.57L100.33 84.18L101.26 83.80L102.18 83.41L103.10 83.03L104.03 82.65L104.95 82.26L105.87 81.88L106.80 81.49L107.72 81.11L108.65 80.73L109.57 80.36L110.50 79.99L111.43 79.62L112.37 79.27L113.30 78.92L114.24 78.58L115.19 78.24L116.13 77.91L117.08 77.59L118.03 77.27L118.98 76.96L119.93 76.66L120.88 76.36L121.84 76.06L122.80 75.77L123.75 75.49L124.72 75.22L125.68 74.96L126.65 74.71L127.62 74.46L128.59 74.23L129.56 73.99L130.53 73.75L131.50 73.51L132.47 73.27L133.44 73.02L134.41 72.77L135.38 72.51L136.34 72.26L137.31 72.00L138.27 71.74L139.24 71.47L140.20 71.21L141.17 70.94L142.13 70.67L143.09 70.40L144.05 70.13L145.02 69.85L145.98 69.58L146.94 69.30L147.90 69.02L148.86 68.74L149.82 68.46L150.78 68.19L151.74 67.91L152.71 67.64L153.67 67.38L154.63 67.11L155.60 66.85L156.57 66.60L157.53 66.35L158.50 66.11L159.47 65.87L160.45 65.63L161.42 65.39L162.39 65.15L163.36 64.91L164.33 64.66L165.29 64.40L166.26 64.14L167.22 63.88L168.18 63.60L169.15 63.33L170.11 63.05L171.07 62.77L172.03 62.49L172.99 62.21L173.95 61.93L174.91 61.65L175.87 61.38L176.83 61.11L177.80 60.86L178.77 60.62L179.74 60.39L180.72 60.18L181.70 59.98L182.68 59.80L183.67 59.63L184.65 59.46L185.64 59.31L186.63 59.16L187.62 59.02L188.61 58.88L189.60 58.75L190.59 58.62L191.59 58.49L192.58 58.37L193.57 58.25L194.56 58.13L195.56 58.03L196.55 57.95L197.55 57.88L198.55 57.84L199.55 57.82L200.54 57.83L201.54 57.86L202.54 57.90L203.54 57.96L204.54 58.03L205.53 58.12L206.53 58.21L207.52 58.33L208.51 58.46L209.50 58.61L210.48 58.78L211.46 58.98L212.43 59.21L213.39 59.47L214.34 59.78L215.28 60.12L216.20 60.50L217.10 60.92L217.98 61.38L218.85 61.88L219.70 62.40L220.54 62.95L221.36 63.52L222.16 64.10L222.96 64.71L223.75 65.32L224.52 65.95L225.29 66.60L226.03 67.26L226.77 67.94L227.48 68.64L228.18 69.35L228.86 70.09L229.52 70.83L230.18 71.58L230.83 72.35L231.47 73.11L232.11 73.88L232.74 74.66L233.36 75.44L233.98 76.22L234.59 77.02L235.19 77.82L235.78 78.62L236.36 79.44L236.93 80.26L237.50 81.08L238.05 81.91L238.60 82.75L239.14 83.59L239.67 84.44L240.20 85.29L240.72 86.14L241.23 87.00L241.74 87.86L242.25 88.72L242.76 89.58L243.27 90.44L243.77 91.31L244.28 92.17L244.78 93.03L245.29 93.90L245.79 94.76L246.29 95.63L246.79 96.49L247.29 97.36L247.79 98.23L248.28 99.10L248.77 99.97L249.25 100.84L249.73 101.72L250.20 102.60L250.67 103.49L251.11 104.38L251.55 105.28L251.97 106.19L252.38 107.10L252.78 108.02L253.17 108.94L253.56 109.86L253.94 110.78L254.32 111.71L254.70 112.64L255.07 113.56L255.44 114.49L255.81 115.42L256.18 116.35L256.56 117.28L256.93 118.20L257.30 119.13L257.68 120.06L258.05 120.99L258.43 121.91L258.81 122.84L259.19 123.76L259.57 124.68L259.96 125.61L260.35 126.53L260.74 127.45L261.13 128.37L261.52 129.29L261.92 130.21L262.31 131.13L262.70 132.05L263.10 132.97L263.49 133.89L263.88 134.80L264.28 135.72L264.67 136.64L265.06 137.57L265.45 138.49L265.84 139.41L266.22 140.33L266.61 141.25L267.00 142.17L267.40 143.09L267.79 144.01L268.18 144.93L268.57 145.85L268.97 146.77L269.36 147.69L269.74 148.61L270.13 149.54L270.51 150.46L270.89 151.39L271.26 152.31L271.63 153.24L272.00 154.17L272.36 155.11L272.71 156.04L273.06 156.98L273.40 157.92L273.74 158.86L274.07 159.80L274.40 160.75L274.72 161.69L275.04 162.64L275.35 163.59L275.66 164.54L275.97 165.49L276.28 166.44L276.59 167.40L276.89 168.35L277.19 169.30L277.50 170.26L277.80 171.21L278.10 172.16L278.40 173.12L278.70 174.07L279.00 175.02L279.31 175.98L279.61 176.93L279.92 177.88L280.22 178.83L280.53 179.78L280.84 180.73L281.15 181.68L281.47 182.63L281.78 183.58L282.09 184.53L282.40 185.48L282.72 186.43L283.03 187.38L283.34 188.33L283.66 189.28L283.97 190.23L284.28 191.18L284.60 192.13L284.91 193.08L285.23 194.03L285.54 194.98L285.85 195.93L286.17 196.88L286.48 197.83L286.80 198.78L287.11 199.73L287.42 200.68L287.73 201.63L288.05 202.58L288.36 203.53L288.67 204.48L288.98 205.43L289.29 206.38L289.60 207.33L289.91 208.28L290.23 209.23L290.54 210.18L290.85 211.13L291.16 212.08L291.47 213.03L291.79 213.98L292.10 214.93L292.42 215.88L292.73 216.83L293.05 217.77L293.37 218.72L293.69 219.67L294.01 220.62L294.33 221.56L294.65 222.51L294.96 223.46L295.28 224.41L295.60 225.36L295.92 226.31L296.23 227.25L296.55 228.20L296.88 229.15L297.20 230.09L297.52 231.04L297.85 231.99L298.18 232.93L298.51 233.87L298.85 234.81L299.19 235.75L299.54 236.69L299.89 237.63L300.25 238.56L300.61 239.49L300.99 240.42L301.37 241.34L301.75 242.27L302.15 243.18L302.55 244.10L302.96 245.01L303.37 245.93L303.78 246.83L304.20 247.74L304.62 248.65L305.05 249.56L305.47 250.46L305.89 251.37L306.31 252.28L306.73 253.19L307.14 254.10L307.55 255.01L307.95 255.92L308.35 256.84L308.74 257.76L309.12 258.69L309.50 259.61L309.88 260.54L310.26 261.46L310.63 262.39L311.00 263.32L311.38 264.25L311.76 265.17L312.14 266.10L312.52 267.02L312.92 267.94L313.32 268.85L313.73 269.77L314.14 270.67L314.57 271.58L315.01 272.48L315.45 273.37L315.91 274.26L316.36 275.15L316.83 276.04L317.30 276.92L317.77 277.80L318.25 278.68L318.74 279.55L319.24 280.42L319.75 281.28L320.27 282.13L320.80 282.98L321.35 283.81L321.91 284.64L322.49 285.46L323.09 286.25L323.70 287.04L324.34 287.81L325.00 288.55L325.69 289.28L326.39 289.99L327.11 290.68L327.86 291.33L328.63 291.97L329.43 292.57L330.24 293.15L331.07 293.70L331.93 294.22L332.80 294.70L333.68 295.16L334.59 295.58L335.51 295.96L336.44 296.31L337.39 296.62L338.35 296.91L339.31 297.16L340.28 297.39L341.26 297.59L342.24 297.78L343.23 297.96L344.21 298.13L345.20 298.28L346.19 298.42L347.18 298.55L348.17 298.67L349.17 298.77L350.16 298.87L351.16 298.95L352.16 299.02L353.15 299.09L354.15 299.15L355.15 299.20L356.15 299.25L357.15 299.30L358.15 299.34L359.15 299.38L360.15 299.42L361.15 299.47L362.14 299.50L363.14 299.54L364.14 299.58L365.14 299.62L366.14 299.65L367.14 299.69L368.14 299.72L369.14 299.75L370.14 299.78L371.14 299.81L372.14 299.83L373.14 299.86L374.14 299.88L375.14 299.90L376.14 299.92L377.14 299.93L378.14 299.95L379.14 299.97L380.14 299.98L381.14 299.99L382.14 300.01L383.14 300.02L384.14 300.03L385.14 300.05L386.14 300.06L387.14 300.07L388.14 300.08L389.14 300.09L390.14 300.10L391.14 300.11L392.14 300.12L393.14 300.13L394.14 300.14L395.14 300.15L396.14 300.15L397.14 300.16L398.14 300.17L399.14 300.18L400.14 300.18L401.14 300.19L402.14 300.20L403.14 300.20L404.14 300.21L405.14 300.22L406.14 300.22L407.14 300.23L408.14 300.24L409.14 300.24L410.14 300.25L411.14 300.25L412.14 300.26L413.14 300.27L414.14 300.27L415.14 300.28L416.14 300.28L417.14 300.29L418.14 300.29L419.14 300.30L420.14 300.31L421.14 300.31L422.14 300.32L423.14 300.32L424.14 300.33L425.14 300.33L426.14 300.34L427.14 300.34L428.14 300.35L429.14 300.35L430.14 300.36L431.14 300.36L432.14 300.37L433.14 300.37L434.14 300.38L435.14 300.38L436.14 300.39L437.14 300.39L438.14 300.40L439.14 300.40L440.14 300.41L441.14 300.41L442.14 300.42L443.14 300.42L444.14 300.43L445.14 300.43L446.14 300.44L447.14 300.44L448.14 300.45L449.14 300.45L450.14 300.46L451.14 300.46L452.14 300.47L453.14 300.47L454.13 300.48L455.12 300.48L456.09 300.49L457.03 300.49L457.93 300.50L458.80 300.50L458.80 300.50" fill="none" stroke="#dc050c" stroke-width="3.30" stroke-linejoin="round" stroke-linecap="round"/>
<path d="M94.80 101.40L95.68 100.93L96.57 100.46L97.45 99.99L98.33 99.52L99.21 99.05L100.09 98.57L100.97 98.10L101.85 97.62L102.73 97.14L103.60 96.66L104.48 96.17L105.35 95.69L106.22 95.20L107.10 94.71L107.97 94.22L108.84 93.72L109.71 93.23L110.58 92.73L111.44 92.24L112.31 91.74L113.18 91.24L114.04 90.74L114.91 90.24L115.77 89.73L116.63 89.22L117.49 88.71L118.35 88.20L119.20 87.68L120.06 87.16L120.91 86.63L121.75 86.10L122.60 85.57L123.44 85.03L124.28 84.49L125.12 83.95L125.96 83.40L126.80 82.86L127.64 82.32L128.48 81.78L129.33 81.24L130.17 80.70L131.02 80.17L131.86 79.64L132.71 79.11L133.56 78.58L134.41 78.05L135.26 77.52L136.11 76.99L136.95 76.46L137.80 75.92L138.64 75.38L139.48 74.84L140.32 74.30L141.16 73.75L141.99 73.20L142.83 72.65L143.66 72.09L144.48 71.53L145.30 70.96L146.12 70.38L146.93 69.80L147.73 69.20L148.53 68.60L149.33 67.99L150.12 67.39L150.92 66.79L151.73 66.20L152.55 65.62L153.38 65.07L154.22 64.53L155.07 64.02L155.94 63.52L156.82 63.05L157.71 62.59L158.61 62.15L159.51 61.72L160.42 61.31L161.34 60.92L162.27 60.55L163.20 60.19L164.15 59.87L165.10 59.57L166.06 59.31L167.03 59.07L168.00 58.86L168.99 58.68L169.97 58.54L170.96 58.45L171.96 58.41L172.95 58.42L173.94 58.49L174.93 58.61L175.91 58.78L176.89 58.98L177.86 59.22L178.82 59.49L179.77 59.79L180.70 60.14L181.62 60.52L182.51 60.95L183.39 61.43L184.23 61.95L185.05 62.52L185.82 63.14L186.55 63.81L187.24 64.52L187.88 65.28L188.48 66.07L189.04 66.89L189.57 67.74L190.06 68.61L190.52 69.49L190.95 70.39L191.36 71.30L191.77 72.22L192.16 73.14L192.55 74.06L192.94 74.98L193.33 75.90L193.71 76.82L194.10 77.74L194.49 78.67L194.87 79.59L195.25 80.51L195.63 81.44L196.01 82.36L196.40 83.29L196.78 84.21L197.16 85.14L197.54 86.06L197.92 86.99L198.30 87.91L198.69 88.83L199.07 89.76L199.46 90.68L199.85 91.60L200.24 92.52L200.63 93.44L201.02 94.36L201.41 95.28L201.80 96.20L202.18 97.13L202.55 98.05L202.93 98.98L203.29 99.91L203.65 100.85L204.01 101.78L204.35 102.72L204.70 103.66L205.04 104.60L205.37 105.54L205.70 106.48L206.03 107.43L206.35 108.38L206.68 109.32L206.99 110.27L207.31 111.22L207.62 112.17L207.93 113.12L208.24 114.07L208.54 115.02L208.84 115.98L209.14 116.93L209.44 117.89L209.73 118.84L210.02 119.80L210.30 120.76L210.59 121.72L210.86 122.68L211.14 123.64L211.41 124.60L211.67 125.57L211.94 126.53L212.20 127.50L212.45 128.47L212.70 129.43L212.94 130.40L213.18 131.38L213.41 132.35L213.64 133.32L213.86 134.30L214.09 135.27L214.31 136.25L214.53 137.22L214.75 138.20L214.97 139.17L215.20 140.15L215.43 141.12L215.66 142.09L215.90 143.06L216.15 144.03L216.40 145.00L216.65 145.97L216.91 146.93L217.17 147.90L217.43 148.86L217.70 149.83L217.97 150.79L218.24 151.75L218.51 152.72L218.78 153.68L219.05 154.64L219.32 155.60L219.59 156.57L219.87 157.53L220.14 158.49L220.41 159.45L220.68 160.41L220.95 161.38L221.23 162.34L221.50 163.30L221.77 164.26L222.05 165.22L222.32 166.19L222.60 167.15L222.88 168.11L223.15 169.07L223.43 170.03L223.71 170.99L223.99 171.95L224.27 172.91L224.55 173.87L224.83 174.83L225.12 175.79L225.40 176.75L225.69 177.70L225.97 178.66L226.26 179.62L226.54 180.58L226.83 181.54L227.11 182.50L227.40 183.46L227.68 184.42L227.96 185.37L228.24 186.33L228.52 187.29L228.80 188.25L229.08 189.21L229.36 190.17L229.64 191.14L229.91 192.10L230.18 193.06L230.45 194.02L230.72 194.99L230.98 195.95L231.24 196.92L231.49 197.89L231.74 198.85L231.99 199.82L232.23 200.79L232.47 201.76L232.71 202.74L232.94 203.71L233.18 204.68L233.41 205.65L233.65 206.62L233.88 207.60L234.11 208.57L234.34 209.54L234.57 210.51L234.80 211.49L235.03 212.46L235.26 213.43L235.49 214.41L235.72 215.38L235.95 216.35L236.18 217.33L236.41 218.30L236.64 219.27L236.88 220.25L237.11 221.22L237.35 222.19L237.59 223.16L237.83 224.13L238.07 225.10L238.31 226.07L238.56 227.04L238.80 228.01L239.05 228.98L239.29 229.95L239.54 230.92L239.78 231.89L240.02 232.86L240.27 233.83L240.51 234.80L240.75 235.77L240.99 236.74L241.22 237.71L241.46 238.68L241.69 239.66L241.92 240.63L242.14 241.61L242.37 242.58L242.59 243.55L242.81 244.53L243.03 245.51L243.25 246.48L243.48 247.45L243.70 248.43L243.93 249.40L244.16 250.38L244.39 251.35L244.63 252.32L244.87 253.29L245.12 254.26L245.37 255.23L245.63 256.19L245.89 257.16L246.15 258.12L246.42 259.09L246.70 260.05L246.98 261.01L247.26 261.97L247.56 262.92L247.86 263.87L248.18 264.82L248.51 265.77L248.84 266.71L249.19 267.64L249.56 268.57L249.93 269.50L250.32 270.42L250.72 271.34L251.13 272.25L251.56 273.16L251.99 274.06L252.43 274.95L252.88 275.85L253.34 276.73L253.81 277.62L254.28 278.50L254.77 279.37L255.27 280.23L255.79 281.09L256.32 281.94L256.86 282.78L257.42 283.61L257.98 284.43L258.55 285.25L259.13 286.07L259.70 286.89L260.28 287.71L260.86 288.52L261.43 289.34L262.02 290.15L262.61 290.96L263.21 291.75L263.83 292.54L264.46 293.32L265.10 294.09L265.75 294.85L266.41 295.60L267.08 296.33L267.77 297.05L268.49 297.73L269.25 298.38L270.04 298.97L270.88 299.50L271.75 299.97L272.65 300.37L273.58 300.72L274.53 301.01L275.50 301.25L276.47 301.45L277.46 301.61L278.45 301.75L279.44 301.88L280.43 302.00L281.42 302.11L282.42 302.21L283.41 302.31L284.41 302.39L285.41 302.47L286.40 302.53L287.40 302.57L288.40 302.61L289.40 302.64L290.40 302.66L291.40 302.68L292.40 302.70L293.40 302.72L294.40 302.73L295.40 302.75L296.40 302.76L297.40 302.77L298.40 302.78L299.40 302.79L300.40 302.80L301.40 302.81L302.40 302.82L303.40 302.83L304.40 302.83L305.40 302.84L306.40 302.85L307.40 302.85L308.40 302.86L309.40 302.86L310.40 302.87L311.40 302.87L312.40 302.88L313.40 302.88L314.40 302.89L315.40 302.89L316.40 302.89L317.40 302.90L318.40 302.90L319.40 302.90L320.40 302.91L321.40 302.91L322.40 302.91L323.40 302.91L324.40 302.92L325.40 302.92L326.40 302.92L327.40 302.92L328.40 302.93L329.40 302.93L330.40 302.93L331.40 302.93L332.40 302.94L333.40 302.94L334.40 302.94L335.40 302.94L336.40 302.94L337.40 302.94L338.40 302.95L339.40 302.95L340.40 302.95L341.40 302.95L342.40 302.95L343.40 302.95L344.40 302.96L345.40 302.96L346.40 302.96L347.40 302.96L348.40 302.96L349.40 302.96L350.40 302.96L351.40 302.96L352.40 302.97L353.40 302.97L354.40 302.97L355.40 302.97L356.40 302.97L357.40 302.97L358.40 302.97L359.40 302.97L360.40 302.97L361.40 302.98L362.40 302.98L363.40 302.98L364.40 302.98L365.40 302.98L366.40 302.98L367.40 302.98L368.40 302.98L369.40 302.99L370.40 302.99L371.40 302.99L372.40 302.99L373.40 302.99L374.39 302.99L375.38 302.99L376.33 303.00L377.24 303.00L378.09 303.00L378.90 303.00L378.90 303.00" fill="none" stroke="#0ab446" stroke-width="3.30" stroke-linejoin="round" stroke-linecap="round"/>
<mask id="m1" maskUnits="userSpaceOnUse" x="0" y="0" width="900" height="375"><rect x="0" y="0" width="900" height="375" fill="#fff"/><path d="M95.00 84.50L95.83 83.95L96.67 83.39L97.50 82.84L98.33 82.28L99.16 81.72L99.98 81.16L100.80 80.59L101.62 80.02L102.44 79.44L103.25 78.85L104.05 78.26L104.85 77.66L105.65 77.06L106.45 76.46L107.25 75.86L108.05 75.27L108.86 74.68L109.68 74.11L110.50 73.54L111.33 72.99L112.17 72.45L113.02 71.92L113.87 71.41L114.73 70.90L115.60 70.40L116.46 69.90L117.33 69.41L118.20 68.91L119.06 68.41L119.93 67.91L120.79 67.40L121.64 66.89L122.50 66.37L123.35 65.86L124.21 65.34L125.07 64.84L125.94 64.34L126.81 63.86L127.69 63.39L128.58 62.94L129.48 62.52L130.39 62.11L131.30 61.73L132.23 61.38L133.17 61.05L134.12 60.75L135.07 60.47L136.03 60.22L137.00 60.00L137.98 59.80L138.96 59.62L139.94 59.47L140.93 59.33L141.92 59.21L142.91 59.11L143.91 59.02L144.90 58.94L145.90 58.88L146.90 58.82L147.90 58.77L148.89 58.73L149.89 58.70L150.89 58.67L151.89 58.65L152.89 58.63L153.89 58.62L154.89 58.61L155.89 58.61L156.89 58.61L157.89 58.61L158.89 58.62L159.89 58.62L160.89 58.64L161.89 58.65L162.89 58.67L163.89 58.70L164.89 58.72L165.89 58.75L166.89 58.79L167.89 58.83L168.89 58.88L169.88 58.93L170.88 58.98L171.88 59.05L172.88 59.12L173.87 59.20L174.87 59.29L175.86 59.39L176.85 59.50L177.84 59.63L178.83 59.78L179.81 59.94L180.79 60.12L181.77 60.33L182.74 60.55L183.71 60.79L184.67 61.05L185.63 61.32L186.58 61.61L187.53 61.91L188.48 62.22L189.43 62.54L190.38 62.85L191.33 63.16L192.28 63.47L193.23 63.78L194.19 64.07L195.14 64.37L196.10 64.66L197.06 64.94L198.01 65.23L198.97 65.51L199.93 65.80L200.88 66.10L201.83 66.41L202.78 66.73L203.72 67.06L204.66 67.40L205.59 67.76L206.52 68.13L207.44 68.50L208.36 68.89L209.29 69.27L210.21 69.66L211.13 70.04L212.06 70.41L212.99 70.78L213.92 71.14L214.85 71.49L215.79 71.83L216.73 72.17L217.67 72.50L218.62 72.84L219.56 73.17L220.49 73.52L221.43 73.87L222.36 74.23L223.28 74.61L224.20 75.01L225.10 75.42L226.01 75.84L226.90 76.28L227.79 76.73L228.68 77.19L229.57 77.65L230.45 78.11L231.34 78.57L232.23 79.02L233.12 79.47L234.02 79.90L234.92 80.33L235.83 80.74L236.75 81.15L237.66 81.55L238.58 81.95L239.50 82.34L240.42 82.73L241.34 83.12L242.25 83.52L243.17 83.93L244.08 84.34L244.99 84.75L245.89 85.18L246.79 85.61L247.69 86.04L248.59 86.48L249.49 86.92L250.39 87.37L251.28 87.81L252.18 88.24L253.08 88.68L253.98 89.11L254.88 89.54L255.79 89.97L256.69 90.40L257.60 90.83L258.50 91.26L259.40 91.69L260.30 92.13L261.19 92.58L262.08 93.04L262.96 93.50L263.83 93.98L264.70 94.48L265.56 94.98L266.42 95.49L267.27 96.01L268.12 96.54L268.97 97.07L269.81 97.60L270.66 98.14L271.51 98.66L272.36 99.19L273.22 99.70L274.07 100.22L274.93 100.73L275.79 101.23L276.66 101.74L277.52 102.25L278.38 102.76L279.23 103.28L280.08 103.80L280.93 104.33L281.77 104.87L282.61 105.41L283.44 105.97L284.26 106.54L285.08 107.11L285.89 107.69L286.71 108.27L287.52 108.85L288.33 109.44L289.14 110.02L289.96 110.60L290.78 111.17L291.60 111.74L292.42 112.30L293.25 112.87L294.08 113.43L294.91 113.98L295.73 114.54L296.56 115.11L297.38 115.67L298.20 116.25L299.01 116.83L299.82 117.42L300.62 118.01L301.42 118.61L302.21 119.22L303.00 119.84L303.79 120.45L304.58 121.06L305.37 121.67L306.17 122.27L306.97 122.87L307.78 123.45L308.60 124.02L309.42 124.58L310.26 125.13L311.10 125.67L311.94 126.20L312.79 126.73L313.63 127.26L314.48 127.80L315.32 128.34L316.15 128.88L316.98 129.44L317.80 130.01L318.60 130.60L319.40 131.20L320.19 131.81L320.97 132.43L321.74 133.06L322.51 133.70L323.28 134.34L324.05 134.97L324.83 135.60L325.61 136.22L326.40 136.83L327.19 137.44L327.99 138.03L328.80 138.62L329.61 139.21L330.42 139.79L331.22 140.38L332.03 140.97L332.83 141.57L333.62 142.18L334.41 142.79L335.18 143.42L335.94 144.06L336.70 144.72L337.45 145.38L338.19 146.04L338.93 146.71L339.67 147.38L340.42 148.04L341.17 148.70L341.93 149.34L342.70 149.97L343.48 150.60L344.27 151.21L345.07 151.81L345.87 152.40L346.68 152.99L347.49 153.57L348.30 154.16L349.11 154.74L349.91 155.34L350.71 155.94L351.50 156.55L352.28 157.17L353.05 157.80L353.82 158.44L354.58 159.09L355.34 159.74L356.09 160.39L356.85 161.04L357.61 161.69L358.37 162.33L359.15 162.96L359.93 163.58L360.72 164.19L361.52 164.79L362.32 165.38L363.13 165.96L363.95 166.54L364.76 167.12L365.58 167.70L366.40 168.28L367.21 168.86L368.02 169.44L368.83 170.03L369.63 170.62L370.43 171.22L371.23 171.83L372.02 172.44L372.81 173.05L373.60 173.66L374.39 174.28L375.18 174.89L375.98 175.49L376.77 176.10L377.57 176.70L378.38 177.29L379.18 177.88L379.99 178.47L380.80 179.06L381.61 179.64L382.43 180.22L383.24 180.81L384.05 181.39L384.86 181.98L385.67 182.57L386.47 183.16L387.28 183.75L388.08 184.35L388.88 184.95L389.68 185.55L390.48 186.15L391.28 186.74L392.08 187.34L392.89 187.93L393.70 188.52L394.51 189.10L395.33 189.68L396.15 190.25L396.97 190.82L397.79 191.39L398.62 191.94L399.46 192.50L400.29 193.04L401.14 193.58L401.98 194.11L402.83 194.63L403.69 195.15L404.55 195.65L405.42 196.15L406.29 196.64L407.17 197.12L408.04 197.60L408.93 198.07L409.81 198.54L410.69 199.00L411.58 199.47L412.47 199.93L413.35 200.39L414.24 200.85L415.13 201.32L416.01 201.78L416.90 202.24L417.79 202.70L418.67 203.16L419.56 203.63L420.45 204.09L421.34 204.54L422.23 205.00L423.12 205.46L424.01 205.91L424.90 206.36L425.79 206.81L426.69 207.25L427.59 207.69L428.49 208.12L429.40 208.53L430.31 208.94L431.23 209.34L432.15 209.72L433.08 210.10L434.01 210.46L434.94 210.81L435.88 211.15L436.82 211.48L437.77 211.81L438.71 212.13L439.66 212.45L440.61 212.76L441.56 213.08L442.51 213.39L443.46 213.71L444.41 214.02L445.36 214.34L446.31 214.65L447.26 214.96L448.21 215.27L449.16 215.57L450.11 215.87L451.07 216.16L452.03 216.44L452.99 216.72L453.95 217.00L454.91 217.27L455.88 217.53L456.84 217.79L457.81 218.04L458.78 218.29L459.75 218.54L460.72 218.78L461.69 219.02L462.66 219.25L463.63 219.48L464.61 219.71L465.58 219.93L466.56 220.15L467.54 220.36L468.51 220.57L469.49 220.77L470.47 220.97L471.45 221.16L472.44 221.35L473.42 221.53L474.40 221.71L475.39 221.89L476.37 222.06L477.36 222.23L478.34 222.39L479.33 222.55L480.32 222.71L481.31 222.86L482.30 223.01L483.28 223.15L484.27 223.29L485.27 223.43L486.26 223.56L487.25 223.69L488.24 223.82L489.23 223.93L490.23 224.05L491.22 224.16L492.21 224.26L493.21 224.36L494.20 224.46L495.20 224.54L496.20 224.63L497.19 224.71L498.19 224.78L499.19 224.85L500.19 224.92L501.18 224.98L502.18 225.04L503.18 225.10L504.18 225.16L505.18 225.22L506.17 225.28L507.17 225.34L508.17 225.40L509.17 225.46L510.17 225.52L511.16 225.58L512.16 225.64L513.16 225.69L514.16 225.75L515.16 225.80L516.16 225.85L517.16 225.89L518.16 225.94L519.15 225.98L520.15 226.02L521.15 226.06L522.15 226.09L523.15 226.12L524.15 226.16L525.15 226.19L526.15 226.22L527.15 226.25L528.15 226.29L529.15 226.32L530.15 226.35L531.15 226.38L532.15 226.41L533.15 226.45L534.15 226.48L535.15 226.51L536.14 226.54L537.14 226.57L538.14 226.60L539.14 226.62L540.14 226.65L541.14 226.68L542.14 226.70L543.13 226.73L544.12 226.76L545.11 226.78L546.10 226.80L547.08 226.83L548.05 226.85L549.03 226.88L550.00 226.90L550.00 226.90" fill="none" stroke="#000" stroke-width="0.70"/></mask><path d="M95.00 84.50L95.83 83.95L96.67 83.39L97.50 82.84L98.33 82.28L99.16 81.72L99.98 81.16L100.80 80.59L101.62 80.02L102.44 79.44L103.25 78.85L104.05 78.26L104.85 77.66L105.65 77.06L106.45 76.46L107.25 75.86L108.05 75.27L108.86 74.68L109.68 74.11L110.50 73.54L111.33 72.99L112.17 72.45L113.02 71.92L113.87 71.41L114.73 70.90L115.60 70.40L116.46 69.90L117.33 69.41L118.20 68.91L119.06 68.41L119.93 67.91L120.79 67.40L121.64 66.89L122.50 66.37L123.35 65.86L124.21 65.34L125.07 64.84L125.94 64.34L126.81 63.86L127.69 63.39L128.58 62.94L129.48 62.52L130.39 62.11L131.30 61.73L132.23 61.38L133.17 61.05L134.12 60.75L135.07 60.47L136.03 60.22L137.00 60.00L137.98 59.80L138.96 59.62L139.94 59.47L140.93 59.33L141.92 59.21L142.91 59.11L143.91 59.02L144.90 58.94L145.90 58.88L146.90 58.82L147.90 58.77L148.89 58.73L149.89 58.70L150.89 58.67L151.89 58.65L152.89 58.63L153.89 58.62L154.89 58.61L155.89 58.61L156.89 58.61L157.89 58.61L158.89 58.62L159.89 58.62L160.89 58.64L161.89 58.65L162.89 58.67L163.89 58.70L164.89 58.72L165.89 58.75L166.89 58.79L167.89 58.83L168.89 58.88L169.88 58.93L170.88 58.98L171.88 59.05L172.88 59.12L173.87 59.20L174.87 59.29L175.86 59.39L176.85 59.50L177.84 59.63L178.83 59.78L179.81 59.94L180.79 60.12L181.77 60.33L182.74 60.55L183.71 60.79L184.67 61.05L185.63 61.32L186.58 61.61L187.53 61.91L188.48 62.22L189.43 62.54L190.38 62.85L191.33 63.16L192.28 63.47L193.23 63.78L194.19 64.07L195.14 64.37L196.10 64.66L197.06 64.94L198.01 65.23L198.97 65.51L199.93 65.80L200.88 66.10L201.83 66.41L202.78 66.73L203.72 67.06L204.66 67.40L205.59 67.76L206.52 68.13L207.44 68.50L208.36 68.89L209.29 69.27L210.21 69.66L211.13 70.04L212.06 70.41L212.99 70.78L213.92 71.14L214.85 71.49L215.79 71.83L216.73 72.17L217.67 72.50L218.62 72.84L219.56 73.17L220.49 73.52L221.43 73.87L222.36 74.23L223.28 74.61L224.20 75.01L225.10 75.42L226.01 75.84L226.90 76.28L227.79 76.73L228.68 77.19L229.57 77.65L230.45 78.11L231.34 78.57L232.23 79.02L233.12 79.47L234.02 79.90L234.92 80.33L235.83 80.74L236.75 81.15L237.66 81.55L238.58 81.95L239.50 82.34L240.42 82.73L241.34 83.12L242.25 83.52L243.17 83.93L244.08 84.34L244.99 84.75L245.89 85.18L246.79 85.61L247.69 86.04L248.59 86.48L249.49 86.92L250.39 87.37L251.28 87.81L252.18 88.24L253.08 88.68L253.98 89.11L254.88 89.54L255.79 89.97L256.69 90.40L257.60 90.83L258.50 91.26L259.40 91.69L260.30 92.13L261.19 92.58L262.08 93.04L262.96 93.50L263.83 93.98L264.70 94.48L265.56 94.98L266.42 95.49L267.27 96.01L268.12 96.54L268.97 97.07L269.81 97.60L270.66 98.14L271.51 98.66L272.36 99.19L273.22 99.70L274.07 100.22L274.93 100.73L275.79 101.23L276.66 101.74L277.52 102.25L278.38 102.76L279.23 103.28L280.08 103.80L280.93 104.33L281.77 104.87L282.61 105.41L283.44 105.97L284.26 106.54L285.08 107.11L285.89 107.69L286.71 108.27L287.52 108.85L288.33 109.44L289.14 110.02L289.96 110.60L290.78 111.17L291.60 111.74L292.42 112.30L293.25 112.87L294.08 113.43L294.91 113.98L295.73 114.54L296.56 115.11L297.38 115.67L298.20 116.25L299.01 116.83L299.82 117.42L300.62 118.01L301.42 118.61L302.21 119.22L303.00 119.84L303.79 120.45L304.58 121.06L305.37 121.67L306.17 122.27L306.97 122.87L307.78 123.45L308.60 124.02L309.42 124.58L310.26 125.13L311.10 125.67L311.94 126.20L312.79 126.73L313.63 127.26L314.48 127.80L315.32 128.34L316.15 128.88L316.98 129.44L317.80 130.01L318.60 130.60L319.40 131.20L320.19 131.81L320.97 132.43L321.74 133.06L322.51 133.70L323.28 134.34L324.05 134.97L324.83 135.60L325.61 136.22L326.40 136.83L327.19 137.44L327.99 138.03L328.80 138.62L329.61 139.21L330.42 139.79L331.22 140.38L332.03 140.97L332.83 141.57L333.62 142.18L334.41 142.79L335.18 143.42L335.94 144.06L336.70 144.72L337.45 145.38L338.19 146.04L338.93 146.71L339.67 147.38L340.42 148.04L341.17 148.70L341.93 149.34L342.70 149.97L343.48 150.60L344.27 151.21L345.07 151.81L345.87 152.40L346.68 152.99L347.49 153.57L348.30 154.16L349.11 154.74L349.91 155.34L350.71 155.94L351.50 156.55L352.28 157.17L353.05 157.80L353.82 158.44L354.58 159.09L355.34 159.74L356.09 160.39L356.85 161.04L357.61 161.69L358.37 162.33L359.15 162.96L359.93 163.58L360.72 164.19L361.52 164.79L362.32 165.38L363.13 165.96L363.95 166.54L364.76 167.12L365.58 167.70L366.40 168.28L367.21 168.86L368.02 169.44L368.83 170.03L369.63 170.62L370.43 171.22L371.23 171.83L372.02 172.44L372.81 173.05L373.60 173.66L374.39 174.28L375.18 174.89L375.98 175.49L376.77 176.10L377.57 176.70L378.38 177.29L379.18 177.88L379.99 178.47L380.80 179.06L381.61 179.64L382.43 180.22L383.24 180.81L384.05 181.39L384.86 181.98L385.67 182.57L386.47 183.16L387.28 183.75L388.08 184.35L388.88 184.95L389.68 185.55L390.48 186.15L391.28 186.74L392.08 187.34L392.89 187.93L393.70 188.52L394.51 189.10L395.33 189.68L396.15 190.25L396.97 190.82L397.79 191.39L398.62 191.94L399.46 192.50L400.29 193.04L401.14 193.58L401.98 194.11L402.83 194.63L403.69 195.15L404.55 195.65L405.42 196.15L406.29 196.64L407.17 197.12L408.04 197.60L408.93 198.07L409.81 198.54L410.69 199.00L411.58 199.47L412.47 199.93L413.35 200.39L414.24 200.85L415.13 201.32L416.01 201.78L416.90 202.24L417.79 202.70L418.67 203.16L419.56 203.63L420.45 204.09L421.34 204.54L422.23 205.00L423.12 205.46L424.01 205.91L424.90 206.36L425.79 206.81L426.69 207.25L427.59 207.69L428.49 208.12L429.40 208.53L430.31 208.94L431.23 209.34L432.15 209.72L433.08 210.10L434.01 210.46L434.94 210.81L435.88 211.15L436.82 211.48L437.77 211.81L438.71 212.13L439.66 212.45L440.61 212.76L441.56 213.08L442.51 213.39L443.46 213.71L444.41 214.02L445.36 214.34L446.31 214.65L447.26 214.96L448.21 215.27L449.16 215.57L450.11 215.87L451.07 216.16L452.03 216.44L452.99 216.72L453.95 217.00L454.91 217.27L455.88 217.53L456.84 217.79L457.81 218.04L458.78 218.29L459.75 218.54L460.72 218.78L461.69 219.02L462.66 219.25L463.63 219.48L464.61 219.71L465.58 219.93L466.56 220.15L467.54 220.36L468.51 220.57L469.49 220.77L470.47 220.97L471.45 221.16L472.44 221.35L473.42 221.53L474.40 221.71L475.39 221.89L476.37 222.06L477.36 222.23L478.34 222.39L479.33 222.55L480.32 222.71L481.31 222.86L482.30 223.01L483.28 223.15L484.27 223.29L485.27 223.43L486.26 223.56L487.25 223.69L488.24 223.82L489.23 223.93L490.23 224.05L491.22 224.16L492.21 224.26L493.21 224.36L494.20 224.46L495.20 224.54L496.20 224.63L497.19 224.71L498.19 224.78L499.19 224.85L500.19 224.92L501.18 224.98L502.18 225.04L503.18 225.10L504.18 225.16L505.18 225.22L506.17 225.28L507.17 225.34L508.17 225.40L509.17 225.46L510.17 225.52L511.16 225.58L512.16 225.64L513.16 225.69L514.16 225.75L515.16 225.80L516.16 225.85L517.16 225.89L518.16 225.94L519.15 225.98L520.15 226.02L521.15 226.06L522.15 226.09L523.15 226.12L524.15 226.16L525.15 226.19L526.15 226.22L527.15 226.25L528.15 226.29L529.15 226.32L530.15 226.35L531.15 226.38L532.15 226.41L533.15 226.45L534.15 226.48L535.15 226.51L536.14 226.54L537.14 226.57L538.14 226.60L539.14 226.62L540.14 226.65L541.14 226.68L542.14 226.70L543.13 226.73L544.12 226.76L545.11 226.78L546.10 226.80L547.08 226.83L548.05 226.85L549.03 226.88L550.00 226.90L550.00 226.90" fill="none" stroke="#1a1a1a" stroke-width="4.00" stroke-dasharray="11.8 9.77" stroke-dashoffset="1.10" mask="url(#m1)"/>
<mask id="m2" maskUnits="userSpaceOnUse" x="0" y="0" width="900" height="375"><rect x="0" y="0" width="900" height="375" fill="#fff"/><path d="M95.00 82.00L95.81 81.41L96.61 80.82L97.42 80.22L98.22 79.62L99.01 79.02L99.80 78.41L100.59 77.79L101.37 77.17L102.14 76.53L102.90 75.89L103.66 75.23L104.40 74.57L105.14 73.90L105.88 73.23L106.62 72.56L107.36 71.89L108.10 71.22L108.85 70.57L109.62 69.94L110.40 69.32L111.19 68.72L112.00 68.15L112.83 67.60L113.67 67.07L114.52 66.56L115.39 66.07L116.26 65.59L117.14 65.12L118.03 64.65L118.91 64.20L119.80 63.74L120.70 63.30L121.59 62.86L122.49 62.43L123.40 62.02L124.31 61.62L125.23 61.25L126.16 60.91L127.10 60.60L128.05 60.32L129.01 60.07L129.98 59.85L130.95 59.65L131.93 59.49L132.92 59.34L133.90 59.21L134.90 59.10L135.89 59.01L136.89 58.92L137.88 58.84L138.88 58.77L139.88 58.71L140.87 58.65L141.87 58.60L142.87 58.55L143.87 58.51L144.87 58.48L145.87 58.46L146.87 58.44L147.87 58.42L148.87 58.41L149.87 58.41L150.87 58.40L151.87 58.40L152.87 58.40L153.87 58.41L154.87 58.42L155.86 58.43L156.86 58.46L157.86 58.49L158.86 58.54L159.85 58.60L160.85 58.68L161.84 58.77L162.83 58.89L163.81 59.03L164.80 59.20L165.77 59.39L166.74 59.60L167.71 59.83L168.67 60.09L169.63 60.38L170.57 60.68L171.51 61.01L172.44 61.37L173.36 61.74L174.28 62.14L175.18 62.55L176.08 62.99L176.97 63.43L177.86 63.89L178.74 64.36L179.62 64.83L180.50 65.30L181.38 65.77L182.27 66.22L183.16 66.67L184.06 67.10L184.96 67.52L185.87 67.93L186.78 68.34L187.70 68.74L188.61 69.14L189.53 69.54L190.44 69.95L191.34 70.37L192.24 70.80L193.14 71.25L194.02 71.70L194.90 72.18L195.78 72.66L196.65 73.15L197.51 73.65L198.37 74.16L199.23 74.68L200.08 75.20L200.93 75.72L201.79 76.24L202.64 76.76L203.50 77.28L204.35 77.80L205.21 78.31L206.06 78.83L206.92 79.35L207.78 79.86L208.64 80.37L209.50 80.88L210.36 81.39L211.22 81.89L212.09 82.39L212.95 82.90L213.82 83.40L214.68 83.90L215.54 84.40L216.41 84.91L217.26 85.42L218.11 85.95L218.95 86.48L219.79 87.03L220.61 87.59L221.41 88.18L222.20 88.78L222.98 89.40L223.75 90.03L224.50 90.68L225.24 91.35L225.98 92.02L226.72 92.69L227.45 93.37L228.19 94.04L228.93 94.70L229.68 95.36L230.44 96.02L231.20 96.66L231.97 97.31L232.73 97.95L233.50 98.59L234.26 99.24L235.01 99.89L235.76 100.55L236.49 101.23L237.21 101.91L237.92 102.61L238.62 103.33L239.30 104.05L239.98 104.78L240.65 105.52L241.32 106.26L241.99 107.00L242.66 107.74L243.34 108.47L244.03 109.20L244.72 109.91L245.43 110.61L246.15 111.31L246.87 112.00L247.60 112.68L248.33 113.36L249.07 114.03L249.81 114.71L250.55 115.39L251.28 116.06L252.01 116.74L252.74 117.43L253.47 118.12L254.19 118.81L254.90 119.51L255.62 120.20L256.33 120.91L257.04 121.61L257.75 122.32L258.46 123.02L259.16 123.73L259.87 124.44L260.58 125.14L261.29 125.85L261.99 126.56L262.70 127.26L263.41 127.97L264.11 128.68L264.81 129.39L265.51 130.11L266.19 130.84L266.87 131.57L267.54 132.31L268.19 133.06L268.84 133.82L269.48 134.59L270.11 135.36L270.74 136.14L271.36 136.92L271.99 137.70L272.62 138.47L273.26 139.24L273.90 140.00L274.55 140.76L275.22 141.50L275.89 142.24L276.57 142.97L277.27 143.69L277.96 144.41L278.67 145.12L279.37 145.83L280.08 146.53L280.79 147.23L281.50 147.94L282.21 148.64L282.92 149.34L283.63 150.05L284.34 150.75L285.05 151.46L285.76 152.16L286.47 152.87L287.18 153.57L287.89 154.28L288.60 154.98L289.31 155.69L290.02 156.39L290.73 157.10L291.44 157.80L292.15 158.50L292.86 159.21L293.56 159.92L294.26 160.63L294.96 161.35L295.65 162.07L296.33 162.80L297.01 163.54L297.67 164.28L298.33 165.03L298.97 165.79L299.61 166.56L300.25 167.33L300.88 168.10L301.52 168.88L302.15 169.65L302.79 170.41L303.44 171.17L304.09 171.93L304.76 172.68L305.43 173.41L306.11 174.15L306.80 174.87L307.50 175.58L308.20 176.29L308.91 176.99L309.63 177.68L310.36 178.37L311.10 179.04L311.84 179.71L312.59 180.37L313.35 181.02L314.11 181.66L314.88 182.30L315.66 182.94L316.43 183.57L317.20 184.20L317.98 184.83L318.75 185.47L319.51 186.11L320.27 186.76L321.03 187.41L321.78 188.07L322.53 188.74L323.27 189.40L324.02 190.07L324.76 190.74L325.50 191.41L326.25 192.07L327.00 192.73L327.76 193.38L328.52 194.03L329.29 194.66L330.07 195.29L330.85 195.91L331.65 196.52L332.44 197.12L333.25 197.72L334.05 198.30L334.87 198.88L335.68 199.46L336.50 200.03L337.33 200.60L338.15 201.16L338.98 201.73L339.81 202.29L340.64 202.84L341.47 203.40L342.30 203.95L343.13 204.51L343.97 205.06L344.80 205.62L345.63 206.17L346.46 206.73L347.29 207.29L348.12 207.84L348.95 208.40L349.78 208.96L350.61 209.51L351.45 210.06L352.28 210.61L353.12 211.16L353.97 211.69L354.81 212.23L355.66 212.75L356.52 213.27L357.38 213.78L358.24 214.28L359.11 214.77L359.99 215.25L360.87 215.72L361.75 216.19L362.64 216.64L363.54 217.08L364.44 217.51L365.35 217.93L366.26 218.34L367.17 218.74L368.09 219.13L369.02 219.51L369.94 219.89L370.87 220.26L371.80 220.63L372.73 220.99L373.66 221.35L374.60 221.71L375.53 222.06L376.47 222.42L377.41 222.76L378.35 223.10L379.29 223.44L380.23 223.76L381.18 224.08L382.13 224.39L383.08 224.69L384.04 224.97L385.00 225.25L385.96 225.51L386.93 225.76L387.90 226.00L388.87 226.23L389.85 226.45L390.82 226.67L391.80 226.88L392.78 227.08L393.76 227.27L394.74 227.46L395.72 227.65L396.71 227.84L397.69 228.02L398.67 228.19L399.66 228.36L400.65 228.53L401.63 228.69L402.62 228.85L403.61 229.00L404.60 229.14L405.59 229.28L406.58 229.41L407.57 229.54L408.56 229.65L409.56 229.76L410.55 229.87L411.55 229.96L412.54 230.06L413.54 230.15L414.53 230.23L415.53 230.31L416.53 230.39L417.52 230.47L418.52 230.54L419.52 230.61L420.52 230.67L421.51 230.74L422.51 230.80L423.51 230.86L424.51 230.92L425.51 230.97L426.51 231.03L427.50 231.08L428.50 231.12L429.50 231.17L430.50 231.21L431.50 231.25L432.50 231.29L433.50 231.33L434.50 231.37L435.50 231.40L436.50 231.43L437.50 231.46L438.50 231.49L439.50 231.52L440.49 231.55L441.49 231.58L442.49 231.61L443.49 231.64L444.49 231.66L445.49 231.69L446.49 231.72L447.49 231.75L448.49 231.78L449.49 231.81L450.49 231.85L451.49 231.88L452.49 231.92L453.49 231.95L454.49 231.99L455.49 232.03L456.49 232.06L457.49 232.10L458.49 232.13L459.48 232.17L460.48 232.20L461.48 232.24L462.48 232.27L463.48 232.30L464.48 232.32L465.48 232.35L466.48 232.38L467.48 232.40L468.48 232.43L469.48 232.45L470.48 232.48L471.48 232.50L472.48 232.52L473.48 232.54L474.48 232.56L475.48 232.58L476.48 232.60L477.48 232.62L478.48 232.64L479.48 232.66L480.48 232.68L481.48 232.70L482.48 232.72L483.48 232.73L484.48 232.75L485.48 232.77L486.48 232.79L487.48 232.81L488.48 232.82L489.48 232.84L490.48 232.85L491.48 232.87L492.48 232.88L493.48 232.90L494.48 232.91L495.48 232.92L496.48 232.93L497.48 232.94L498.48 232.95L499.48 232.96L500.48 232.97L501.48 232.99L502.48 233.00L503.48 233.01L504.48 233.02L505.48 233.04L506.48 233.05L507.47 233.07L508.47 233.08L509.47 233.10L510.47 233.12L511.47 233.14L512.47 233.16L513.47 233.18L514.47 233.20L515.47 233.23L516.47 233.25L517.47 233.28L518.47 233.31L519.47 233.34L520.47 233.37L521.47 233.40L522.47 233.42L523.47 233.45L524.47 233.48L525.47 233.50L526.47 233.52L527.47 233.55L528.47 233.57L529.47 233.59L530.47 233.60L531.47 233.62L532.47 233.64L533.47 233.66L534.47 233.68L535.47 233.69L536.47 233.71L537.47 233.73L538.47 233.75L539.47 233.77L540.46 233.79L541.46 233.81L542.45 233.83L543.44 233.85L544.43 233.87L545.40 233.89L546.37 233.91L547.32 233.93L548.25 233.94L549.18 233.96L550.09 233.98L551.00 234.00L551.00 234.00" fill="none" stroke="#000" stroke-width="1.00"/></mask><path d="M95.00 82.00L95.81 81.41L96.61 80.82L97.42 80.22L98.22 79.62L99.01 79.02L99.80 78.41L100.59 77.79L101.37 77.17L102.14 76.53L102.90 75.89L103.66 75.23L104.40 74.57L105.14 73.90L105.88 73.23L106.62 72.56L107.36 71.89L108.10 71.22L108.85 70.57L109.62 69.94L110.40 69.32L111.19 68.72L112.00 68.15L112.83 67.60L113.67 67.07L114.52 66.56L115.39 66.07L116.26 65.59L117.14 65.12L118.03 64.65L118.91 64.20L119.80 63.74L120.70 63.30L121.59 62.86L122.49 62.43L123.40 62.02L124.31 61.62L125.23 61.25L126.16 60.91L127.10 60.60L128.05 60.32L129.01 60.07L129.98 59.85L130.95 59.65L131.93 59.49L132.92 59.34L133.90 59.21L134.90 59.10L135.89 59.01L136.89 58.92L137.88 58.84L138.88 58.77L139.88 58.71L140.87 58.65L141.87 58.60L142.87 58.55L143.87 58.51L144.87 58.48L145.87 58.46L146.87 58.44L147.87 58.42L148.87 58.41L149.87 58.41L150.87 58.40L151.87 58.40L152.87 58.40L153.87 58.41L154.87 58.42L155.86 58.43L156.86 58.46L157.86 58.49L158.86 58.54L159.85 58.60L160.85 58.68L161.84 58.77L162.83 58.89L163.81 59.03L164.80 59.20L165.77 59.39L166.74 59.60L167.71 59.83L168.67 60.09L169.63 60.38L170.57 60.68L171.51 61.01L172.44 61.37L173.36 61.74L174.28 62.14L175.18 62.55L176.08 62.99L176.97 63.43L177.86 63.89L178.74 64.36L179.62 64.83L180.50 65.30L181.38 65.77L182.27 66.22L183.16 66.67L184.06 67.10L184.96 67.52L185.87 67.93L186.78 68.34L187.70 68.74L188.61 69.14L189.53 69.54L190.44 69.95L191.34 70.37L192.24 70.80L193.14 71.25L194.02 71.70L194.90 72.18L195.78 72.66L196.65 73.15L197.51 73.65L198.37 74.16L199.23 74.68L200.08 75.20L200.93 75.72L201.79 76.24L202.64 76.76L203.50 77.28L204.35 77.80L205.21 78.31L206.06 78.83L206.92 79.35L207.78 79.86L208.64 80.37L209.50 80.88L210.36 81.39L211.22 81.89L212.09 82.39L212.95 82.90L213.82 83.40L214.68 83.90L215.54 84.40L216.41 84.91L217.26 85.42L218.11 85.95L218.95 86.48L219.79 87.03L220.61 87.59L221.41 88.18L222.20 88.78L222.98 89.40L223.75 90.03L224.50 90.68L225.24 91.35L225.98 92.02L226.72 92.69L227.45 93.37L228.19 94.04L228.93 94.70L229.68 95.36L230.44 96.02L231.20 96.66L231.97 97.31L232.73 97.95L233.50 98.59L234.26 99.24L235.01 99.89L235.76 100.55L236.49 101.23L237.21 101.91L237.92 102.61L238.62 103.33L239.30 104.05L239.98 104.78L240.65 105.52L241.32 106.26L241.99 107.00L242.66 107.74L243.34 108.47L244.03 109.20L244.72 109.91L245.43 110.61L246.15 111.31L246.87 112.00L247.60 112.68L248.33 113.36L249.07 114.03L249.81 114.71L250.55 115.39L251.28 116.06L252.01 116.74L252.74 117.43L253.47 118.12L254.19 118.81L254.90 119.51L255.62 120.20L256.33 120.91L257.04 121.61L257.75 122.32L258.46 123.02L259.16 123.73L259.87 124.44L260.58 125.14L261.29 125.85L261.99 126.56L262.70 127.26L263.41 127.97L264.11 128.68L264.81 129.39L265.51 130.11L266.19 130.84L266.87 131.57L267.54 132.31L268.19 133.06L268.84 133.82L269.48 134.59L270.11 135.36L270.74 136.14L271.36 136.92L271.99 137.70L272.62 138.47L273.26 139.24L273.90 140.00L274.55 140.76L275.22 141.50L275.89 142.24L276.57 142.97L277.27 143.69L277.96 144.41L278.67 145.12L279.37 145.83L280.08 146.53L280.79 147.23L281.50 147.94L282.21 148.64L282.92 149.34L283.63 150.05L284.34 150.75L285.05 151.46L285.76 152.16L286.47 152.87L287.18 153.57L287.89 154.28L288.60 154.98L289.31 155.69L290.02 156.39L290.73 157.10L291.44 157.80L292.15 158.50L292.86 159.21L293.56 159.92L294.26 160.63L294.96 161.35L295.65 162.07L296.33 162.80L297.01 163.54L297.67 164.28L298.33 165.03L298.97 165.79L299.61 166.56L300.25 167.33L300.88 168.10L301.52 168.88L302.15 169.65L302.79 170.41L303.44 171.17L304.09 171.93L304.76 172.68L305.43 173.41L306.11 174.15L306.80 174.87L307.50 175.58L308.20 176.29L308.91 176.99L309.63 177.68L310.36 178.37L311.10 179.04L311.84 179.71L312.59 180.37L313.35 181.02L314.11 181.66L314.88 182.30L315.66 182.94L316.43 183.57L317.20 184.20L317.98 184.83L318.75 185.47L319.51 186.11L320.27 186.76L321.03 187.41L321.78 188.07L322.53 188.74L323.27 189.40L324.02 190.07L324.76 190.74L325.50 191.41L326.25 192.07L327.00 192.73L327.76 193.38L328.52 194.03L329.29 194.66L330.07 195.29L330.85 195.91L331.65 196.52L332.44 197.12L333.25 197.72L334.05 198.30L334.87 198.88L335.68 199.46L336.50 200.03L337.33 200.60L338.15 201.16L338.98 201.73L339.81 202.29L340.64 202.84L341.47 203.40L342.30 203.95L343.13 204.51L343.97 205.06L344.80 205.62L345.63 206.17L346.46 206.73L347.29 207.29L348.12 207.84L348.95 208.40L349.78 208.96L350.61 209.51L351.45 210.06L352.28 210.61L353.12 211.16L353.97 211.69L354.81 212.23L355.66 212.75L356.52 213.27L357.38 213.78L358.24 214.28L359.11 214.77L359.99 215.25L360.87 215.72L361.75 216.19L362.64 216.64L363.54 217.08L364.44 217.51L365.35 217.93L366.26 218.34L367.17 218.74L368.09 219.13L369.02 219.51L369.94 219.89L370.87 220.26L371.80 220.63L372.73 220.99L373.66 221.35L374.60 221.71L375.53 222.06L376.47 222.42L377.41 222.76L378.35 223.10L379.29 223.44L380.23 223.76L381.18 224.08L382.13 224.39L383.08 224.69L384.04 224.97L385.00 225.25L385.96 225.51L386.93 225.76L387.90 226.00L388.87 226.23L389.85 226.45L390.82 226.67L391.80 226.88L392.78 227.08L393.76 227.27L394.74 227.46L395.72 227.65L396.71 227.84L397.69 228.02L398.67 228.19L399.66 228.36L400.65 228.53L401.63 228.69L402.62 228.85L403.61 229.00L404.60 229.14L405.59 229.28L406.58 229.41L407.57 229.54L408.56 229.65L409.56 229.76L410.55 229.87L411.55 229.96L412.54 230.06L413.54 230.15L414.53 230.23L415.53 230.31L416.53 230.39L417.52 230.47L418.52 230.54L419.52 230.61L420.52 230.67L421.51 230.74L422.51 230.80L423.51 230.86L424.51 230.92L425.51 230.97L426.51 231.03L427.50 231.08L428.50 231.12L429.50 231.17L430.50 231.21L431.50 231.25L432.50 231.29L433.50 231.33L434.50 231.37L435.50 231.40L436.50 231.43L437.50 231.46L438.50 231.49L439.50 231.52L440.49 231.55L441.49 231.58L442.49 231.61L443.49 231.64L444.49 231.66L445.49 231.69L446.49 231.72L447.49 231.75L448.49 231.78L449.49 231.81L450.49 231.85L451.49 231.88L452.49 231.92L453.49 231.95L454.49 231.99L455.49 232.03L456.49 232.06L457.49 232.10L458.49 232.13L459.48 232.17L460.48 232.20L461.48 232.24L462.48 232.27L463.48 232.30L464.48 232.32L465.48 232.35L466.48 232.38L467.48 232.40L468.48 232.43L469.48 232.45L470.48 232.48L471.48 232.50L472.48 232.52L473.48 232.54L474.48 232.56L475.48 232.58L476.48 232.60L477.48 232.62L478.48 232.64L479.48 232.66L480.48 232.68L481.48 232.70L482.48 232.72L483.48 232.73L484.48 232.75L485.48 232.77L486.48 232.79L487.48 232.81L488.48 232.82L489.48 232.84L490.48 232.85L491.48 232.87L492.48 232.88L493.48 232.90L494.48 232.91L495.48 232.92L496.48 232.93L497.48 232.94L498.48 232.95L499.48 232.96L500.48 232.97L501.48 232.99L502.48 233.00L503.48 233.01L504.48 233.02L505.48 233.04L506.48 233.05L507.47 233.07L508.47 233.08L509.47 233.10L510.47 233.12L511.47 233.14L512.47 233.16L513.47 233.18L514.47 233.20L515.47 233.23L516.47 233.25L517.47 233.28L518.47 233.31L519.47 233.34L520.47 233.37L521.47 233.40L522.47 233.42L523.47 233.45L524.47 233.48L525.47 233.50L526.47 233.52L527.47 233.55L528.47 233.57L529.47 233.59L530.47 233.60L531.47 233.62L532.47 233.64L533.47 233.66L534.47 233.68L535.47 233.69L536.47 233.71L537.47 233.73L538.47 233.75L539.47 233.77L540.46 233.79L541.46 233.81L542.45 233.83L543.44 233.85L544.43 233.87L545.40 233.89L546.37 233.91L547.32 233.93L548.25 233.94L549.18 233.96L550.09 233.98L551.00 234.00L551.00 234.00" fill="none" stroke="#ea4858" stroke-width="3.80" stroke-dasharray="11.8 9.86" stroke-dashoffset="1.25" mask="url(#m2)"/>
<text x="76.2" y="312.90" text-anchor="end" class="tk">0</text>
<text x="76.2" y="262.70" text-anchor="end" class="tk">20</text>
<text x="76.2" y="213.85" text-anchor="end" class="tk">40</text>
<text x="76.2" y="164.80" text-anchor="end" class="tk">60</text>
<text x="76.2" y="114.75" text-anchor="end" class="tk">80</text>
<text x="77.6" y="65.55" text-anchor="end" class="tk">100</text>
<text x="77.6" y="15.60" text-anchor="end" class="tk">120</text>
<text x="94.20" y="336.7" text-anchor="middle" class="tkx">0</text>
<text x="284.55" y="336.7" text-anchor="middle" class="tkx">5</text>
<text x="475.40" y="336.7" text-anchor="middle" class="tkx">10</text>
<text x="323.3" y="368.4" text-anchor="middle" class="ttl" textLength="107" lengthAdjust="spacingAndGlyphs">Depth(cm)</text>
<text transform="translate(21.2 156) rotate(-90)" x="0" y="0" text-anchor="middle" class="ttl2">Relative Dose (%)</text>
<line x1="569.2" y1="33.3" x2="605.6" y2="33.3" stroke="#e20cbf" stroke-width="3.5"/>
<text x="616.8" y="39.3" class="lg" textLength="122.5" lengthAdjust="spacingAndGlyphs">18 MV Photons</text>
<line x1="569.2" y1="66.7" x2="605.6" y2="66.7" stroke="#e8f515" stroke-width="3.5"/>
<text x="616.8" y="72.7" class="lg" textLength="112.7" lengthAdjust="spacingAndGlyphs">6 MV Photons</text>
<line x1="569.2" y1="98.6" x2="605.6" y2="98.6" stroke="#e8690f" stroke-width="3.5"/>
<text x="616.8" y="104.6" class="lg" textLength="140.0" lengthAdjust="spacingAndGlyphs">20 MeV Electrons</text>
<line x1="569.2" y1="130.5" x2="605.6" y2="130.5" stroke="#0a64c8" stroke-width="3.5"/>
<text x="616.8" y="136.5" class="lg" textLength="140.0" lengthAdjust="spacingAndGlyphs">16 MeV Electrons</text>
<line x1="569.2" y1="162.5" x2="605.6" y2="162.5" stroke="#dc050c" stroke-width="3.5"/>
<text x="616.8" y="168.5" class="lg" textLength="140.0" lengthAdjust="spacingAndGlyphs">12 MeV Electrons</text>
<line x1="569.2" y1="194.5" x2="605.6" y2="194.5" stroke="#0ab446" stroke-width="3.5"/>
<text x="616.8" y="200.5" class="lg" textLength="130.8" lengthAdjust="spacingAndGlyphs">9 MeV Electrons</text>
<line x1="568.2" y1="225.2" x2="582.9" y2="225.2" stroke="#141414" stroke-width="1.6"/>
<line x1="568.2" y1="227.9" x2="582.9" y2="227.9" stroke="#141414" stroke-width="1.6"/>
<line x1="591.9" y1="225.2" x2="606.7" y2="225.2" stroke="#141414" stroke-width="1.6"/>
<line x1="591.9" y1="227.9" x2="606.7" y2="227.9" stroke="#141414" stroke-width="1.6"/>
<text x="616.8" y="232.6" class="lg" textLength="281.5" lengthAdjust="spacingAndGlyphs">2 mm Target, 0.3 cm holes, 20 MeV</text>
<line x1="568.2" y1="257.0" x2="582.9" y2="257.0" stroke="#e0303e" stroke-width="1.6"/>
<line x1="568.2" y1="259.8" x2="582.9" y2="259.8" stroke="#e0303e" stroke-width="1.6"/>
<line x1="591.9" y1="257.0" x2="606.7" y2="257.0" stroke="#e0303e" stroke-width="1.6"/>
<line x1="591.9" y1="259.8" x2="606.7" y2="259.8" stroke="#e0303e" stroke-width="1.6"/>
<text x="616.8" y="264.4" class="lg" textLength="281.5" lengthAdjust="spacingAndGlyphs">2 mm Target, 0.3 cm holes, 16 MeV</text>
</svg>
</body></html>
